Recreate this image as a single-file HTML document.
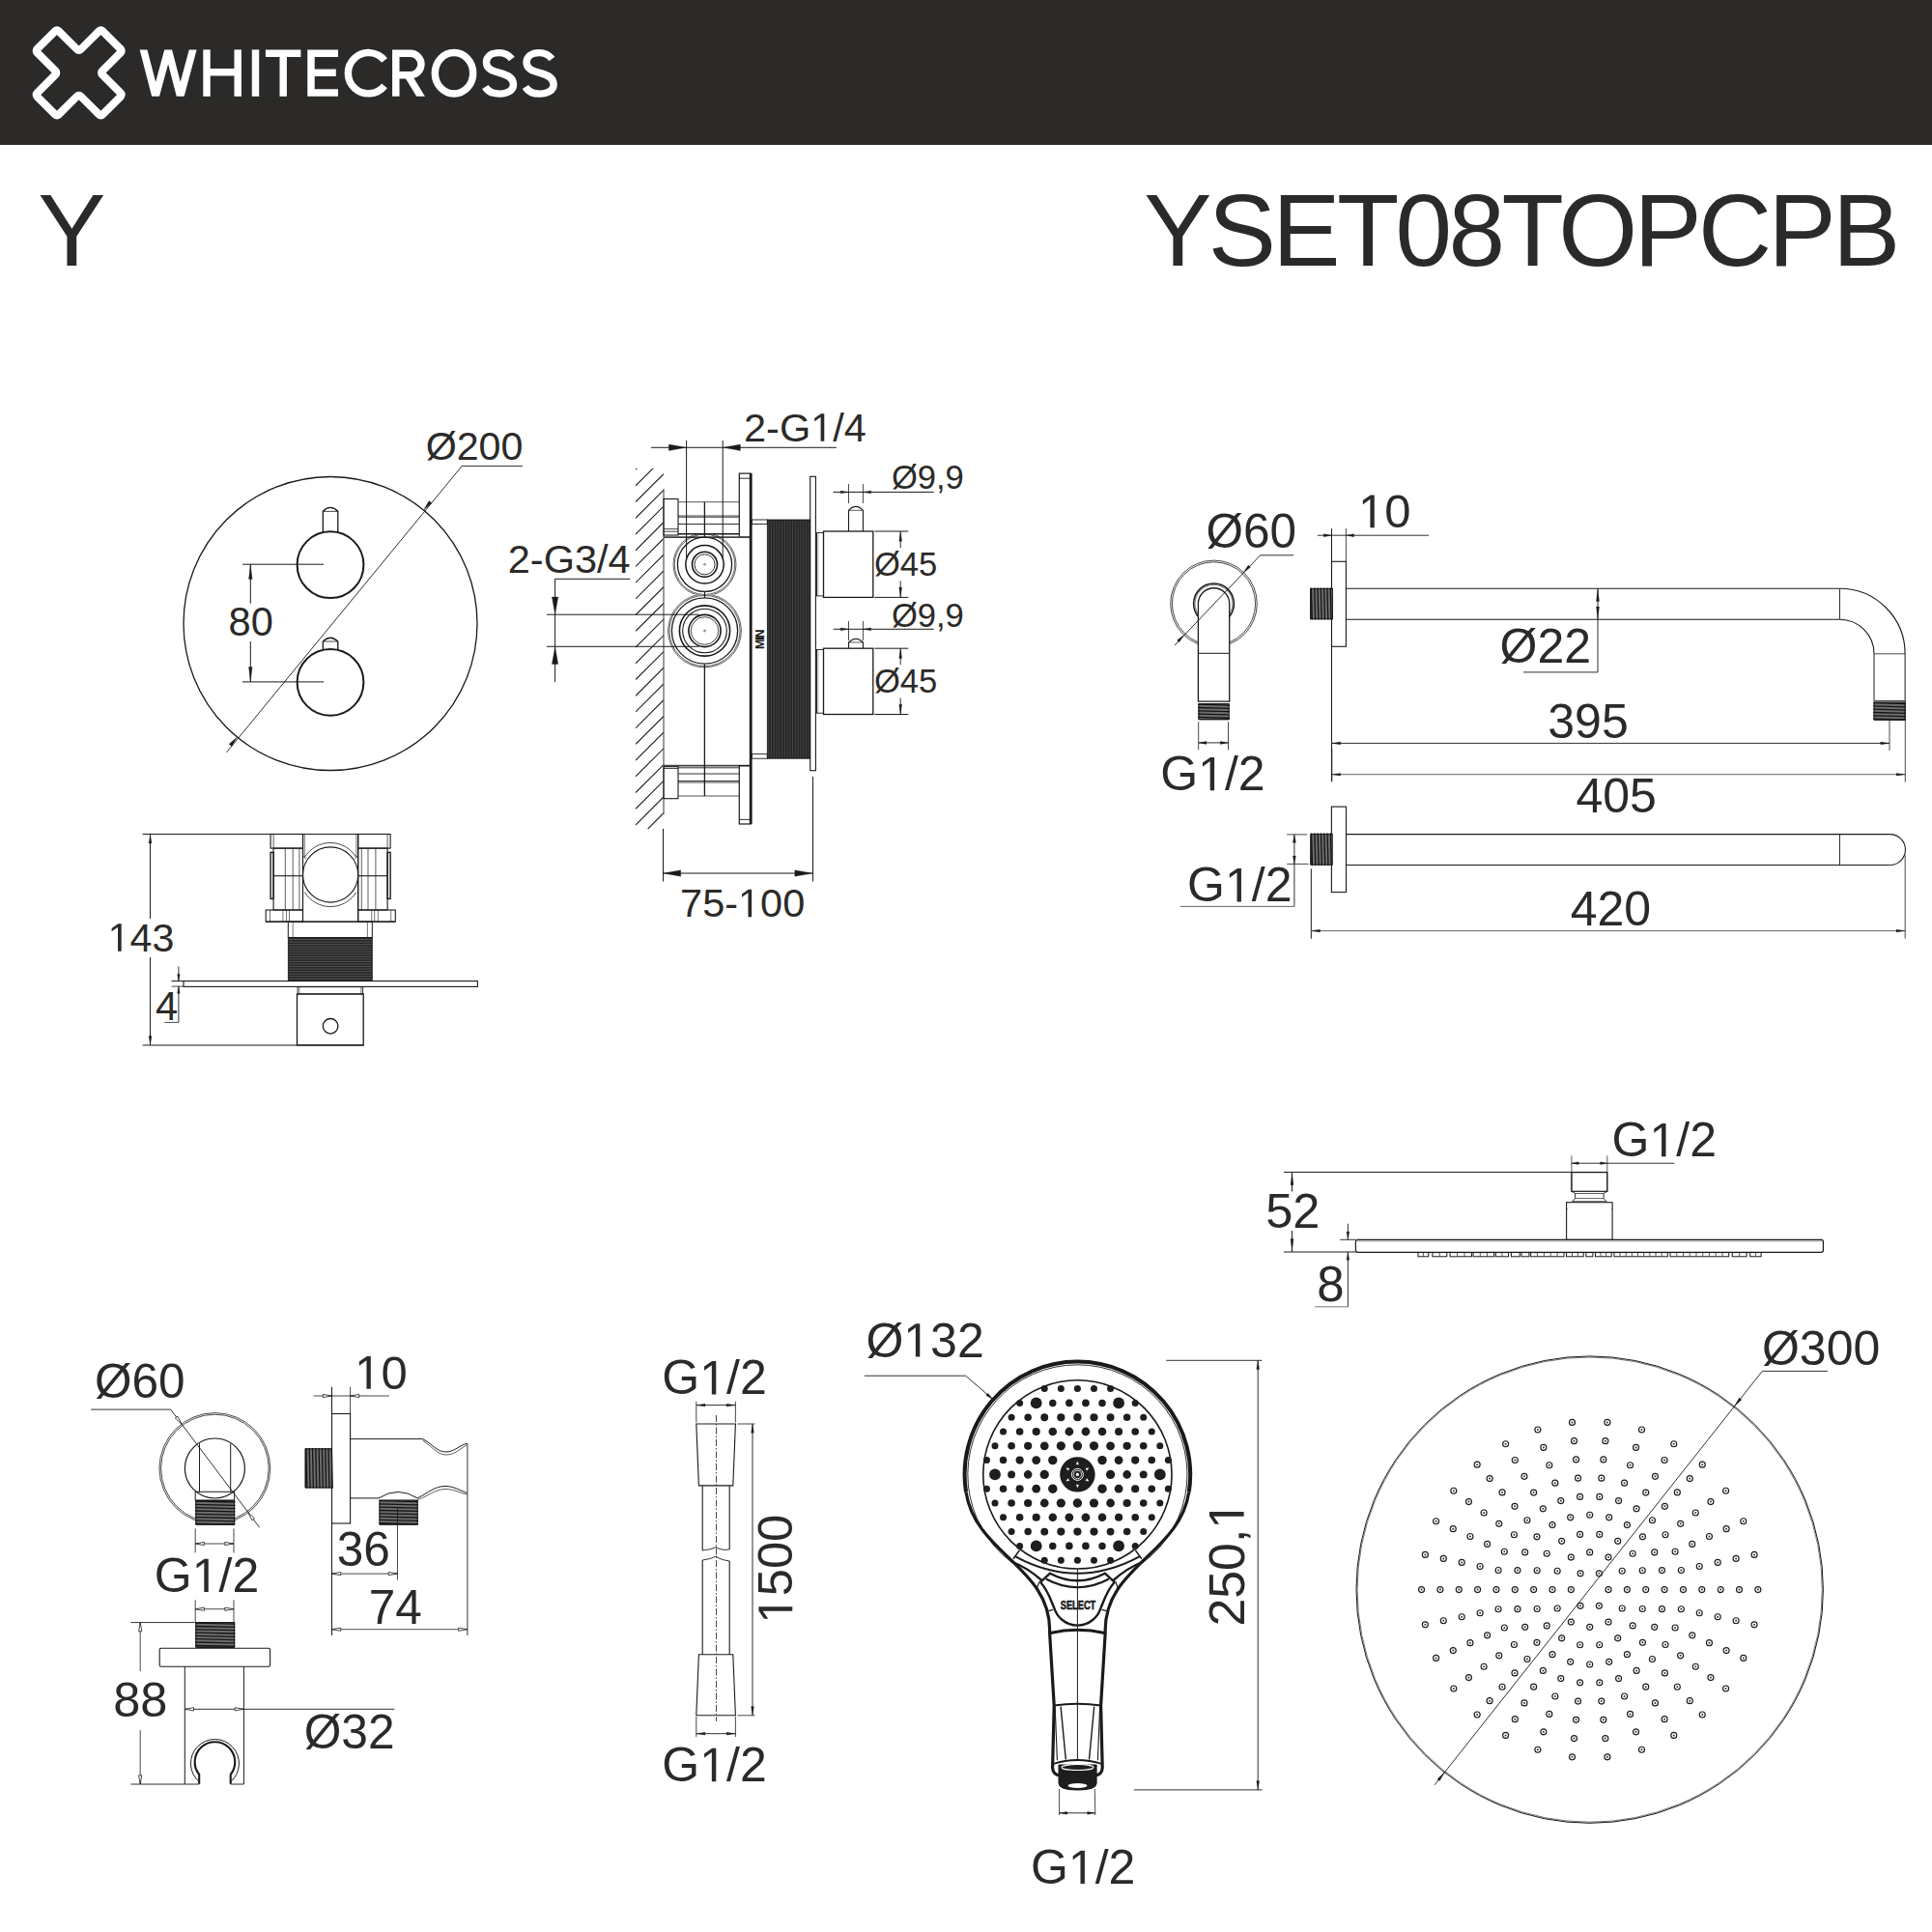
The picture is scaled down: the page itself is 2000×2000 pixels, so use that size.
<!DOCTYPE html>
<html><head><meta charset="utf-8"><style>
html,body{margin:0;padding:0;background:#fff;width:2000px;height:2000px;overflow:hidden;}
svg{display:block;}
text{font-family:"Liberation Sans",sans-serif;}
</style></head><body>
<svg width="2000" height="2000" viewBox="0 0 2000 2000">
<g fill="none" stroke="#1a1a18" stroke-linecap="butt">
<rect x="0" y="0" width="2000" height="150" fill="#2b2a29" stroke="none"/>
<path d="M60.69,32.07 A2.5,2.5 0 0 0 57.16,32.07 L38.35,50.88 A2.5,2.5 0 0 0 38.35,54.41 L57.55,73.61 A2.5,2.5 0 0 1 57.55,77.15 L38.35,96.35 A2.5,2.5 0 0 0 38.35,99.88 L57.16,118.69 A2.5,2.5 0 0 0 60.69,118.69 L79.89,99.49 A2.5,2.5 0 0 1 83.43,99.49 L102.63,118.69 A2.5,2.5 0 0 0 106.16,118.69 L124.97,99.88 A2.5,2.5 0 0 0 124.97,96.35 L105.77,77.15 A2.5,2.5 0 0 1 105.77,73.61 L124.97,54.41 A2.5,2.5 0 0 0 124.97,50.88 L106.16,32.07 A2.5,2.5 0 0 0 102.63,32.07 L83.43,51.27 A2.5,2.5 0 0 1 79.89,51.27 Z " fill="none" stroke="#fff" stroke-width="8" stroke-linejoin="round"/>
<clipPath id="wclip"><rect x="130" y="51.4" width="80" height="48.4"/></clipPath>
<polyline points="146,41.6 161.05,99.8 174.15,51.4 186.7,99.8 202.3,41.6" stroke-width="7.6" fill="none" stroke="#fff" stroke-linejoin="miter" stroke-miterlimit="10" clip-path="url(#wclip)"/>
<line x1="214" y1="51.4" x2="214" y2="99.8" stroke-width="7.45" stroke="#fff" stroke-linecap="butt"/>
<line x1="246.2" y1="51.4" x2="246.2" y2="99.8" stroke-width="7.45" stroke="#fff" stroke-linecap="butt"/>
<line x1="214" y1="74.7" x2="246.2" y2="74.7" stroke-width="7.45" stroke="#fff" stroke-linecap="butt"/>
<line x1="264.5" y1="51.4" x2="264.5" y2="99.8" stroke-width="7.45" stroke="#fff" stroke-linecap="butt"/>
<line x1="274.9" y1="55.2" x2="311.4" y2="55.2" stroke-width="7.45" stroke="#fff" stroke-linecap="butt"/>
<line x1="293.2" y1="55.2" x2="293.2" y2="99.8" stroke-width="7.45" stroke="#fff" stroke-linecap="butt"/>
<polyline points="350,55.25 322,55.25 322,95.95 350,95.95" stroke-width="7.45" fill="none" stroke="#fff" stroke-linejoin="miter"/>
<line x1="322" y1="75.3" x2="347.8" y2="75.3" stroke-width="7.45" stroke="#fff" stroke-linecap="butt"/>
<path d="M398.05,62.53 A21.15,21.15 0 1 0 398.05,88.87" stroke-width="7.45" fill="none" stroke="#fff"/>
<path d="M409.8,99.8 L409.8,55.25 L424.7,55.25 A11.25,11.25 0 0 1 424.7,77.75 L409.8,77.75" stroke-width="7.45" fill="none" stroke="#fff" stroke-linejoin="miter"/>
<clipPath id="rclip"><rect x="400" y="40" width="60" height="59.8"/></clipPath>
<line x1="422" y1="77.5" x2="437.2" y2="102.5" stroke-width="7.45" stroke="#fff" clip-path="url(#rclip)"/>
<ellipse cx="470" cy="75.8" rx="19.7" ry="21.25" fill="none" stroke="#fff" stroke-width="7.45"/>
<path d="M529.8,61 C526.5,56.5 521.5,54.6 516.5,54.6 C509,54.6 503.5,58.5 503.5,64.8 C503.5,72 511.5,73.8 518,75.6 C525,77.6 531.5,80.2 531.5,87.5 C531.5,93.8 525,97.1 517,97.1 C511,97.1 505,94.6 502.3,90" stroke-width="7.45" fill="none" stroke="#fff"/>
<path d="M529.8,61 C526.5,56.5 521.5,54.6 516.5,54.6 C509,54.6 503.5,58.5 503.5,64.8 C503.5,72 511.5,73.8 518,75.6 C525,77.6 531.5,80.2 531.5,87.5 C531.5,93.8 525,97.1 517,97.1 C511,97.1 505,94.6 502.3,90" transform="translate(41.6,0)" fill="none" stroke="#fff" stroke-width="7.45"/>
<text x="39.21" y="274.95" font-size="105.3" fill="#2b2a29" stroke="none">Y</text>
<text x="1184.16" y="275.2" font-size="105.3" fill="#2b2a29" stroke="none" letter-spacing="-3.65">YSET08TOPCPB</text>
<circle cx="342" cy="645.5" r="152" stroke-width="1.3" fill="none"/>
<circle cx="342" cy="584.7" r="34.4" stroke-width="2" fill="none"/>
<circle cx="342" cy="706.3" r="34.4" stroke-width="2" fill="none"/>
<path d="M334.3,551 L334.3,529.2 Q342,521.5 349.8,529.2 L349.8,551" stroke-width="1.3" fill="none"/>
<line x1="334.3" y1="529.4" x2="349.8" y2="529.4" stroke-width="0.8"/>
<path d="M334.3,672.5 L334.3,664 Q342,656.5 349.8,664 L349.8,672.5" stroke-width="1.3" fill="none"/>
<line x1="334.3" y1="664" x2="349.8" y2="664" stroke-width="0.8"/>
<line x1="251" y1="584.2" x2="335" y2="584.2" stroke-width="1"/>
<line x1="251" y1="705.9" x2="335" y2="705.9" stroke-width="1"/>
<line x1="259.3" y1="584.2" x2="259.3" y2="624.6" stroke-width="1"/>
<line x1="259.3" y1="664" x2="259.3" y2="705.9" stroke-width="1"/>
<polygon points="259.3,584.6 261.1,599.6 257.5,599.6" stroke-width="0.3" fill="#1a1a18"/>
<polygon points="259.3,705.5 257.5,690.5 261.1,690.5" stroke-width="0.3" fill="#1a1a18"/>
<text x="236.56" y="658.4" font-size="41.6" fill="#2b2a29" stroke="none">80</text>
<line x1="234.5" y1="778.9" x2="478.2" y2="482.4" stroke-width="0.9"/>
<line x1="478.2" y1="482.4" x2="540.9" y2="482.4" stroke-width="0.9"/>
<polygon points="438.52,528.08 444.11,518.44 446.9,520.73" stroke-width="0.3" fill="#1a1a18"/>
<polygon points="245.48,762.92 239.89,772.56 237.1,770.27" stroke-width="0.3" fill="#1a1a18"/>
<text x="440.63" y="475.81" font-size="41.2" fill="#2b2a29" stroke="none">Ø200</text>
<line x1="147.6" y1="863.5" x2="403.6" y2="863.5" stroke-width="1"/>
<line x1="147.6" y1="1082" x2="376.2" y2="1082" stroke-width="1"/>
<line x1="155.5" y1="863.5" x2="155.5" y2="951" stroke-width="1"/>
<line x1="155.5" y1="991" x2="155.5" y2="1082" stroke-width="1"/>
<polygon points="155.5,863.9 157,872.9 154,872.9" stroke-width="0.3" fill="#1a1a18"/>
<polygon points="155.5,1081.6 154,1072.6 157,1072.6" stroke-width="0.3" fill="#1a1a18"/>
<text x="111.67" y="984.66" font-size="41.2" fill="#2b2a29" stroke="none"> 43</text><polygon points="122.03,984.66 122.03,959.78 115.63,964.34 115.63,960.92 122.33,956.32 125.67,956.32 125.67,984.66" fill="#2b2a29" stroke="none"/>
<line x1="177.6" y1="1015.6" x2="190" y2="1015.6" stroke-width="0.8"/>
<line x1="177.6" y1="1021.1" x2="190" y2="1021.1" stroke-width="0.8"/>
<line x1="184.9" y1="1000.5" x2="184.9" y2="1015.6" stroke-width="0.9"/>
<line x1="184.9" y1="1021.1" x2="184.9" y2="1058.4" stroke-width="0.9"/>
<polygon points="184.9,1015.4 183.6,1008.4 186.2,1008.4" stroke-width="0.3" fill="#1a1a18"/>
<polygon points="184.9,1021.3 186.2,1028.3 183.6,1028.3" stroke-width="0.3" fill="#1a1a18"/>
<line x1="170.4" y1="1058.4" x2="184.9" y2="1058.4" stroke-width="0.8"/>
<text x="160.96" y="1056.2" font-size="41.6" fill="#2b2a29" stroke="none">4</text>
<rect x="280.1" y="863.5" width="33.4" height="14.6" stroke-width="1.1" fill="none"/>
<line x1="283.1" y1="863.5" x2="283.1" y2="878.1" stroke-width="0.7"/>
<rect x="283.1" y="878.1" width="30.4" height="63.9" stroke-width="1.1" fill="none"/>
<line x1="295.3" y1="878.1" x2="295.3" y2="942" stroke-width="0.7"/>
<line x1="303.2" y1="878.1" x2="303.2" y2="942" stroke-width="0.7"/>
<line x1="309.9" y1="878.1" x2="309.9" y2="942" stroke-width="0.7"/>
<line x1="283.1" y1="906.7" x2="313.5" y2="906.7" stroke-width="1.1"/>
<rect x="280.1" y="882.4" width="3" height="48" stroke-width="1.4" fill="none"/>
<rect x="275.2" y="942" width="38.3" height="12.2" stroke-width="1.1" fill="none"/>
<line x1="279.5" y1="942" x2="279.5" y2="954.2" stroke-width="0.6"/>
<line x1="292.9" y1="942" x2="292.9" y2="954.2" stroke-width="0.6"/>
<line x1="296.5" y1="942" x2="296.5" y2="954.2" stroke-width="0.6"/>
<line x1="299.5" y1="942" x2="299.5" y2="954.2" stroke-width="0.6"/>
<rect x="370.7" y="863.5" width="33.4" height="14.6" stroke-width="1.1" fill="none"/>
<line x1="401.1" y1="863.5" x2="401.1" y2="878.1" stroke-width="0.7"/>
<rect x="370.7" y="878.1" width="30.4" height="63.9" stroke-width="1.1" fill="none"/>
<line x1="388.9" y1="878.1" x2="388.9" y2="942" stroke-width="0.7"/>
<line x1="381" y1="878.1" x2="381" y2="942" stroke-width="0.7"/>
<line x1="374.3" y1="878.1" x2="374.3" y2="942" stroke-width="0.7"/>
<line x1="370.7" y1="906.7" x2="401.1" y2="906.7" stroke-width="1.1"/>
<rect x="401.1" y="882.4" width="3" height="48" stroke-width="1.4" fill="none"/>
<rect x="370.7" y="942" width="38.6" height="12.2" stroke-width="1.1" fill="none"/>
<line x1="404.7" y1="942" x2="404.7" y2="954.2" stroke-width="0.6"/>
<line x1="391.3" y1="942" x2="391.3" y2="954.2" stroke-width="0.6"/>
<line x1="387.7" y1="942" x2="387.7" y2="954.2" stroke-width="0.6"/>
<line x1="384.7" y1="942" x2="384.7" y2="954.2" stroke-width="0.6"/>
<line x1="313.5" y1="863.5" x2="313.5" y2="954.2" stroke-width="1.1"/>
<line x1="370.7" y1="863.5" x2="370.7" y2="954.2" stroke-width="1.1"/>
<line x1="315.3" y1="863.5" x2="315.3" y2="887" stroke-width="0.6"/>
<line x1="368.9" y1="863.5" x2="368.9" y2="887" stroke-width="0.6"/>
<line x1="275.2" y1="954.2" x2="408.7" y2="954.2" stroke-width="1.3"/>
<circle cx="342.1" cy="905.5" r="28.6" stroke-width="1.1" fill="none"/>
<path d="M315.3,887.5 A31.4,31.4 0 0 1 368.9,887.5" stroke-width="0.8" fill="none"/>
<path d="M315.3,923.5 A31.4,31.4 0 0 0 368.9,923.5" stroke-width="0.8" fill="none"/>
<path d="M313.5,886 L317,889" stroke-width="0.8" fill="none"/>
<path d="M370.7,886 L367.2,889" stroke-width="0.8" fill="none"/>
<rect x="298.3" y="954.2" width="87" height="16.4" stroke-width="1" fill="none"/>
<line x1="303.2" y1="954.2" x2="303.2" y2="970.6" stroke-width="0.6"/>
<line x1="380.4" y1="954.2" x2="380.4" y2="970.6" stroke-width="0.6"/>
<rect x="298.3" y="970.6" width="87" height="45" stroke-width="0.8" fill="#262626"/>
<line x1="298.8" y1="972.5" x2="384.8" y2="972.5" stroke-width="0.45" stroke="#8a8a8a"/>
<line x1="298.8" y1="975.05" x2="384.8" y2="975.05" stroke-width="0.45" stroke="#8a8a8a"/>
<line x1="298.8" y1="977.6" x2="384.8" y2="977.6" stroke-width="0.45" stroke="#8a8a8a"/>
<line x1="298.8" y1="980.15" x2="384.8" y2="980.15" stroke-width="0.45" stroke="#8a8a8a"/>
<line x1="298.8" y1="982.7" x2="384.8" y2="982.7" stroke-width="0.45" stroke="#8a8a8a"/>
<line x1="298.8" y1="985.25" x2="384.8" y2="985.25" stroke-width="0.45" stroke="#8a8a8a"/>
<line x1="298.8" y1="987.8" x2="384.8" y2="987.8" stroke-width="0.45" stroke="#8a8a8a"/>
<line x1="298.8" y1="990.35" x2="384.8" y2="990.35" stroke-width="0.45" stroke="#8a8a8a"/>
<line x1="298.8" y1="992.9" x2="384.8" y2="992.9" stroke-width="0.45" stroke="#8a8a8a"/>
<line x1="298.8" y1="995.45" x2="384.8" y2="995.45" stroke-width="0.45" stroke="#8a8a8a"/>
<line x1="298.8" y1="998" x2="384.8" y2="998" stroke-width="0.45" stroke="#8a8a8a"/>
<line x1="298.8" y1="1000.55" x2="384.8" y2="1000.55" stroke-width="0.45" stroke="#8a8a8a"/>
<line x1="298.8" y1="1003.1" x2="384.8" y2="1003.1" stroke-width="0.45" stroke="#8a8a8a"/>
<line x1="298.8" y1="1005.65" x2="384.8" y2="1005.65" stroke-width="0.45" stroke="#8a8a8a"/>
<line x1="298.8" y1="1008.2" x2="384.8" y2="1008.2" stroke-width="0.45" stroke="#8a8a8a"/>
<line x1="298.8" y1="1010.75" x2="384.8" y2="1010.75" stroke-width="0.45" stroke="#8a8a8a"/>
<line x1="298.8" y1="1013.3" x2="384.8" y2="1013.3" stroke-width="0.45" stroke="#8a8a8a"/>
<rect x="190" y="1015.6" width="304.4" height="5.8" stroke-width="1.1" fill="none"/>
<line x1="177.6" y1="1015.6" x2="190" y2="1015.6" stroke-width="0.8"/>
<rect x="308.1" y="1021.7" width="67.5" height="7.3" stroke-width="0.9" fill="none"/>
<line x1="309.9" y1="1021.7" x2="309.9" y2="1029" stroke-width="0.6"/>
<line x1="373.8" y1="1021.7" x2="373.8" y2="1029" stroke-width="0.6"/>
<rect x="307.5" y="1029" width="68.7" height="53" stroke-width="1.3" fill="none"/>
<circle cx="342.1" cy="1062.3" r="7.8" stroke-width="1.3" fill="none"/>
<clipPath id="hclip"><rect x="658" y="485" width="29" height="373"/></clipPath>
<path d="M658,486.16 L687,457.16 M658,502.88 L687,473.88 M658,519.6 L687,490.6 M658,536.32 L687,507.32 M658,553.04 L687,524.04 M658,569.76 L687,540.76 M658,586.48 L687,557.48 M658,603.2 L687,574.2 M658,619.92 L687,590.92 M658,636.64 L687,607.64 M658,653.36 L687,624.36 M658,670.08 L687,641.08 M658,686.8 L687,657.8 M658,703.52 L687,674.52 M658,720.24 L687,691.24 M658,736.96 L687,707.96 M658,753.68 L687,724.68 M658,770.4 L687,741.4 M658,787.12 L687,758.12 M658,803.84 L687,774.84 M658,820.56 L687,791.56 M658,837.28 L687,808.28 M658,854 L687,825 M658,870.72 L687,841.72 M658,887.44 L687,858.44" stroke-width="1.1" clip-path="url(#hclip)"/>
<line x1="687" y1="506" x2="687" y2="843" stroke-width="1.2" stroke="#555"/>
<rect x="687" y="516.5" width="15" height="37.5" stroke-width="1.1" fill="none"/>
<line x1="687" y1="547.6" x2="702" y2="547.6" stroke-width="0.8"/>
<line x1="687" y1="550.2" x2="702" y2="550.2" stroke-width="0.8"/>
<line x1="702" y1="519.7" x2="765.3" y2="519.7" stroke-width="1" stroke="#555"/>
<line x1="702" y1="534" x2="765.3" y2="534" stroke-width="0.8"/>
<line x1="702" y1="535.3" x2="765.3" y2="535.3" stroke-width="0.8"/>
<line x1="702" y1="542.5" x2="765.3" y2="542.5" stroke-width="0.9"/>
<line x1="702" y1="552.7" x2="765.3" y2="552.7" stroke-width="1.6"/>
<line x1="729.4" y1="519.7" x2="729.4" y2="556" stroke-width="1.3"/>
<rect x="765.3" y="490.1" width="11.9" height="66" stroke-width="1.2" fill="none"/>
<line x1="765.3" y1="495.2" x2="777.2" y2="495.2" stroke-width="0.9"/>
<line x1="687" y1="556.1" x2="777.2" y2="556.1" stroke-width="1.6" stroke="#444"/>
<line x1="687" y1="792.6" x2="777.2" y2="792.6" stroke-width="1.6" stroke="#444"/>
<line x1="777.2" y1="490.1" x2="777.2" y2="853" stroke-width="2.8"/>
<rect x="687" y="793.7" width="15" height="33" stroke-width="1.1" fill="none"/>
<line x1="687" y1="795.5" x2="702" y2="795.5" stroke-width="0.8"/>
<line x1="702" y1="794.8" x2="765.3" y2="794.8" stroke-width="0.9"/>
<line x1="702" y1="801" x2="765.3" y2="801" stroke-width="0.9"/>
<line x1="702" y1="808.5" x2="765.3" y2="808.5" stroke-width="0.9"/>
<line x1="702" y1="810" x2="765.3" y2="810" stroke-width="0.8"/>
<line x1="702" y1="824" x2="765.3" y2="824" stroke-width="1" stroke="#555"/>
<line x1="729.4" y1="687.8" x2="729.4" y2="824" stroke-width="1.3"/>
<rect x="765.3" y="792.6" width="11.9" height="60.4" stroke-width="1.2" fill="none"/>
<line x1="765.3" y1="848.4" x2="777.2" y2="848.4" stroke-width="0.9"/>
<rect x="778.3" y="538" width="16" height="4.5" stroke-width="0.9" fill="none"/>
<rect x="778.3" y="780.6" width="16" height="4.6" stroke-width="0.9" fill="none"/>
<rect x="794.3" y="538" width="44.4" height="247.2" stroke-width="0.8" fill="#262626"/>
<line x1="795.8" y1="539" x2="795.8" y2="784.2" stroke-width="0.45" stroke="#6a6a6a"/>
<line x1="798.55" y1="539" x2="798.55" y2="784.2" stroke-width="0.45" stroke="#6a6a6a"/>
<line x1="801.3" y1="539" x2="801.3" y2="784.2" stroke-width="0.45" stroke="#6a6a6a"/>
<line x1="804.05" y1="539" x2="804.05" y2="784.2" stroke-width="0.45" stroke="#6a6a6a"/>
<line x1="806.8" y1="539" x2="806.8" y2="784.2" stroke-width="0.45" stroke="#6a6a6a"/>
<line x1="809.55" y1="539" x2="809.55" y2="784.2" stroke-width="0.45" stroke="#6a6a6a"/>
<line x1="812.3" y1="539" x2="812.3" y2="784.2" stroke-width="0.45" stroke="#6a6a6a"/>
<line x1="815.05" y1="539" x2="815.05" y2="784.2" stroke-width="0.45" stroke="#6a6a6a"/>
<line x1="817.8" y1="539" x2="817.8" y2="784.2" stroke-width="0.45" stroke="#6a6a6a"/>
<line x1="820.55" y1="539" x2="820.55" y2="784.2" stroke-width="0.45" stroke="#6a6a6a"/>
<line x1="823.3" y1="539" x2="823.3" y2="784.2" stroke-width="0.45" stroke="#6a6a6a"/>
<line x1="826.05" y1="539" x2="826.05" y2="784.2" stroke-width="0.45" stroke="#6a6a6a"/>
<line x1="828.8" y1="539" x2="828.8" y2="784.2" stroke-width="0.45" stroke="#6a6a6a"/>
<line x1="831.55" y1="539" x2="831.55" y2="784.2" stroke-width="0.45" stroke="#6a6a6a"/>
<line x1="834.3" y1="539" x2="834.3" y2="784.2" stroke-width="0.45" stroke="#6a6a6a"/>
<line x1="837.05" y1="539" x2="837.05" y2="784.2" stroke-width="0.45" stroke="#6a6a6a"/>
<rect x="838.7" y="493.3" width="5.7" height="304.4" stroke-width="1.1" fill="none"/>
<rect x="845.5" y="551.6" width="7" height="65.3" stroke-width="0.9" fill="none"/>
<line x1="847" y1="551.6" x2="847" y2="616.9" stroke-width="0.6" stroke="#777"/>
<rect x="845.5" y="672.5" width="7" height="65.7" stroke-width="0.9" fill="none"/>
<line x1="847" y1="672.5" x2="847" y2="738.2" stroke-width="0.6" stroke="#777"/>
<rect x="852.5" y="550" width="51.3" height="68.4" stroke-width="1.3" fill="none"/>
<rect x="852.5" y="671.2" width="51.3" height="68.3" stroke-width="1.3" fill="none"/>
<path d="M878.5,550 L878.5,528.3 Q886,520.5 893.4,528.3 L893.4,550" stroke-width="1.1" fill="none"/>
<line x1="878.5" y1="528.3" x2="893.4" y2="528.3" stroke-width="0.7"/>
<path d="M878.5,671.2 L878.5,665 Q886,657.5 893.4,665 L893.4,671.2" stroke-width="1.1" fill="none"/>
<line x1="878.5" y1="665" x2="893.4" y2="665" stroke-width="0.7"/>
<clipPath id="ftop"><rect x="680" y="553" width="100" height="62.5"/></clipPath>
<clipPath id="fbot"><rect x="680" y="615.5" width="100" height="80"/></clipPath>
<circle cx="729.5" cy="584.3" r="32.5" stroke-width="0.7" fill="none" clip-path="url(#ftop)"/>
<circle cx="729.5" cy="584.3" r="31.2" stroke-width="0.7" fill="none" clip-path="url(#ftop)"/>
<circle cx="729.5" cy="584.3" r="28.1" stroke-width="1.3" fill="none"/>
<circle cx="729.5" cy="584.3" r="19.7" stroke-width="1.5" fill="none"/>
<circle cx="729.5" cy="584.3" r="13" stroke-width="1.6" fill="none"/>
<circle cx="729.5" cy="584.3" r="10.55" stroke-width="0.9" fill="none"/>
<circle cx="729.5" cy="584.3" r="0.9" stroke-width="0.6" fill="none"/>
<circle cx="729.5" cy="653" r="37.9" stroke-width="0.7" fill="none" clip-path="url(#fbot)"/>
<circle cx="729.5" cy="653" r="36.6" stroke-width="0.7" fill="none" clip-path="url(#fbot)"/>
<circle cx="729.5" cy="653" r="34.1" stroke-width="1.3" fill="none"/>
<circle cx="729.5" cy="653" r="26.1" stroke-width="1.6" fill="none"/>
<circle cx="729.5" cy="653" r="22.8" stroke-width="1.1" fill="none"/>
<circle cx="729.5" cy="653" r="16.6" stroke-width="1.6" fill="none"/>
<circle cx="729.5" cy="653" r="14.3" stroke-width="0.8" fill="none"/>
<circle cx="729.5" cy="653" r="0.9" stroke-width="0.6" fill="none"/>
<line x1="729.5" y1="612.4" x2="729.5" y2="619" stroke-width="1.2"/>
<line x1="710.6" y1="456" x2="710.6" y2="577.7" stroke-width="1"/>
<line x1="748.2" y1="456" x2="748.2" y2="577.7" stroke-width="1"/>
<line x1="674" y1="463.3" x2="865.9" y2="463.3" stroke-width="1"/>
<polygon points="710.4,463.3 692.4,466.5 692.4,460.1" stroke-width="0.3" fill="#1a1a18"/>
<polygon points="748.4,463.3 766.4,460.1 766.4,466.5" stroke-width="0.3" fill="#1a1a18"/>
<text x="769.99" y="456.84" font-size="41.5" fill="#2b2a29" stroke="none">2-G /4</text><polygon points="849.61,456.84 849.61,431.77 843.17,436.37 843.17,432.93 849.91,428.28 853.28,428.28 853.28,456.84" fill="#2b2a29" stroke="none"/>
<line x1="574.6" y1="599.3" x2="652.3" y2="599.3" stroke-width="1"/>
<line x1="574.6" y1="599.3" x2="574.6" y2="706" stroke-width="1"/>
<polygon points="574.6,636 571.4,618 577.8,618" stroke-width="0.3" fill="#1a1a18"/>
<polygon points="574.6,669.5 577.8,687.5 571.4,687.5" stroke-width="0.3" fill="#1a1a18"/>
<line x1="566" y1="636.2" x2="723.5" y2="636.2" stroke-width="1"/>
<line x1="566" y1="669.3" x2="723.5" y2="669.3" stroke-width="1"/>
<text x="525.79" y="593.49" font-size="41.5" fill="#2b2a29" stroke="none">2-G3/4</text>
<line x1="686.5" y1="858" x2="686.5" y2="912.5" stroke-width="1"/>
<line x1="841.5" y1="804" x2="841.5" y2="912.5" stroke-width="1"/>
<line x1="686.5" y1="904" x2="841" y2="904" stroke-width="1"/>
<polygon points="686.7,904 704.7,900.8 704.7,907.2" stroke-width="0.3" fill="#1a1a18"/>
<polygon points="840.8,904 822.8,907.2 822.8,900.8" stroke-width="0.3" fill="#1a1a18"/>
<text x="704.05" y="949.32" font-size="41.5" fill="#2b2a29" stroke="none">75- 00</text><polygon points="774.47,949.32 774.47,924.25 768.03,928.85 768.03,925.4 774.78,920.76 778.14,920.76 778.14,949.32" fill="#2b2a29" stroke="none"/>
<text transform="translate(786.6,662.3) rotate(-90)" x="0" y="4.4" font-size="12.5" font-weight="bold" text-anchor="middle" letter-spacing="-1.2" fill="#1a1a18" stroke="none">MIN</text>
<line x1="862.6" y1="509.4" x2="966.7" y2="509.4" stroke-width="1"/>
<line x1="878.5" y1="501" x2="878.5" y2="521" stroke-width="0.8"/>
<line x1="893.4" y1="501" x2="893.4" y2="521" stroke-width="0.8"/>
<polygon points="878.3,509.4 870.3,510.8 870.3,508" stroke-width="0.3" fill="#1a1a18"/>
<polygon points="893.6,509.4 901.6,508 901.6,510.8" stroke-width="0.3" fill="#1a1a18"/>
<text x="922.88" y="505.51" font-size="34.6" fill="#2b2a29" stroke="none">Ø9,9</text>
<line x1="862.6" y1="651.3" x2="966.7" y2="651.3" stroke-width="1"/>
<line x1="878.5" y1="643" x2="878.5" y2="663" stroke-width="0.8"/>
<line x1="893.4" y1="643" x2="893.4" y2="663" stroke-width="0.8"/>
<polygon points="878.3,651.3 870.3,652.7 870.3,649.9" stroke-width="0.3" fill="#1a1a18"/>
<polygon points="893.6,651.3 901.6,649.9 901.6,652.7" stroke-width="0.3" fill="#1a1a18"/>
<text x="922.88" y="648.76" font-size="34.6" fill="#2b2a29" stroke="none">Ø9,9</text>
<line x1="905.3" y1="550" x2="940.3" y2="550" stroke-width="1"/>
<line x1="905.3" y1="618.4" x2="940.3" y2="618.4" stroke-width="1"/>
<line x1="932.2" y1="550" x2="932.2" y2="618.4" stroke-width="0.9"/>
<polygon points="932.2,550.3 933.6,560.3 930.8,560.3" stroke-width="0.3" fill="#1a1a18"/>
<polygon points="932.2,618.1 930.8,608.1 933.6,608.1" stroke-width="0.3" fill="#1a1a18"/>
<rect x="912" y="567" width="50" height="34.4" fill="#fff" stroke="none"/>
<text x="904.9" y="596.14" font-size="34.6" fill="#2b2a29" stroke="none">Ø45</text>
<line x1="905.3" y1="671.2" x2="940.3" y2="671.2" stroke-width="1"/>
<line x1="905.3" y1="739.5" x2="940.3" y2="739.5" stroke-width="1"/>
<line x1="932.2" y1="671.2" x2="932.2" y2="739.5" stroke-width="0.9"/>
<polygon points="932.2,671.5 933.6,681.5 930.8,681.5" stroke-width="0.3" fill="#1a1a18"/>
<polygon points="932.2,739.2 930.8,729.2 933.6,729.2" stroke-width="0.3" fill="#1a1a18"/>
<rect x="912" y="688.2" width="50" height="34.3" fill="#fff" stroke="none"/>
<text x="904.9" y="716.69" font-size="34.6" fill="#2b2a29" stroke="none">Ø45</text>
<circle cx="1256.5" cy="624.9" r="44.8" stroke-width="0.8" fill="none"/>
<circle cx="1256.5" cy="624.9" r="43.1" stroke-width="0.8" fill="none"/>
<circle cx="1256.5" cy="624.9" r="20.9" stroke-width="1.5" fill="none"/>
<circle cx="1256.5" cy="624.9" r="19.5" stroke-width="0.6" fill="none"/>
<path d="M1240.4,726.1 L1240.4,624.9 A16.15,16.15 0 0 1 1272.7,624.9 L1272.7,726.1 Z" stroke-width="1.3" fill="#fff"/>
<line x1="1240.4" y1="676.3" x2="1272.7" y2="676.3" stroke-width="1"/>
<rect x="1240.9" y="728.6" width="31.3" height="16" stroke-width="1.1" fill="#6e6e6e"/>
<line x1="1240.1" y1="729.2" x2="1273" y2="730.1" stroke-width="1.3" stroke="#141414"/>
<line x1="1240.1" y1="732.5" x2="1273" y2="733.4" stroke-width="1.3" stroke="#141414"/>
<line x1="1240.1" y1="735.8" x2="1273" y2="736.7" stroke-width="1.3" stroke="#141414"/>
<line x1="1240.1" y1="739.1" x2="1273" y2="740" stroke-width="1.3" stroke="#141414"/>
<line x1="1240.1" y1="742.4" x2="1273" y2="743.3" stroke-width="1.3" stroke="#141414"/>
<line x1="1240.9" y1="744.6" x2="1272.2" y2="744.6" stroke-width="1.4"/>
<line x1="1240.7" y1="747.3" x2="1240.7" y2="776.3" stroke-width="0.8"/>
<line x1="1271.5" y1="747.3" x2="1271.5" y2="776.3" stroke-width="0.8"/>
<line x1="1240.7" y1="768.9" x2="1271.5" y2="768.9" stroke-width="0.9"/>
<polygon points="1240.9,768.9 1248.9,767.4 1248.9,770.4" stroke-width="0.3" fill="#1a1a18"/>
<polygon points="1271.3,768.9 1263.3,770.4 1263.3,767.4" stroke-width="0.3" fill="#1a1a18"/>
<text x="1201.21" y="818.33" font-size="50" fill="#2b2a29" stroke="none">G /2</text><polygon points="1252.68,818.33 1252.68,788.12 1244.91,793.67 1244.91,789.52 1253.04,783.93 1257.1,783.93 1257.1,818.33" fill="#2b2a29" stroke="none"/>
<line x1="1216" y1="668" x2="1304.6" y2="574.8" stroke-width="0.9"/>
<line x1="1304.6" y1="574.8" x2="1339.2" y2="574.8" stroke-width="0.9"/>
<polygon points="1287.16,592.65 1292.27,585.09 1294.45,587.16" stroke-width="0.3" fill="#1a1a18"/>
<polygon points="1225.84,657.15 1220.73,664.71 1218.55,662.64" stroke-width="0.3" fill="#1a1a18"/>
<text x="1248.47" y="566.78" font-size="49.5" fill="#2b2a29" stroke="none">Ø60</text>
<rect x="1378.5" y="581.3" width="14.9" height="88" stroke-width="1.1" fill="none"/>
<line x1="1378.5" y1="547.2" x2="1378.5" y2="808.8" stroke-width="1"/>
<line x1="1393.4" y1="547.2" x2="1393.4" y2="581.3" stroke-width="0.8"/>
<line x1="1363.9" y1="554.2" x2="1479" y2="554.2" stroke-width="0.9"/>
<polygon points="1378.3,554.2 1370.3,555.7 1370.3,552.7" stroke-width="0.3" fill="#1a1a18"/>
<polygon points="1393.6,554.2 1401.6,552.7 1401.6,555.7" stroke-width="0.3" fill="#1a1a18"/>
<text x="1406.1" y="546.29" font-size="49" fill="#2b2a29" stroke="none"> 0</text><polygon points="1418.42,546.29 1418.42,516.7 1410.81,522.13 1410.81,518.06 1418.78,512.58 1422.75,512.58 1422.75,546.29" fill="#2b2a29" stroke="none"/>
<rect x="1356.8" y="609.4" width="22.6" height="31.4" stroke-width="1.1" fill="#6e6e6e"/>
<line x1="1357.4" y1="608.6" x2="1358.3" y2="641.6" stroke-width="1.3" stroke="#141414"/>
<line x1="1360.7" y1="608.6" x2="1361.6" y2="641.6" stroke-width="1.3" stroke="#141414"/>
<line x1="1364" y1="608.6" x2="1364.9" y2="641.6" stroke-width="1.3" stroke="#141414"/>
<line x1="1367.3" y1="608.6" x2="1368.2" y2="641.6" stroke-width="1.3" stroke="#141414"/>
<line x1="1370.6" y1="608.6" x2="1371.5" y2="641.6" stroke-width="1.3" stroke="#141414"/>
<line x1="1373.9" y1="608.6" x2="1374.8" y2="641.6" stroke-width="1.3" stroke="#141414"/>
<line x1="1377.2" y1="608.6" x2="1378.1" y2="641.6" stroke-width="1.3" stroke="#141414"/>
<line x1="1356.8" y1="609.4" x2="1356.8" y2="640.8" stroke-width="1.4"/>
<line x1="1393.4" y1="609.2" x2="1904.5" y2="609.2" stroke-width="1.1"/>
<line x1="1393.4" y1="641.3" x2="1904.5" y2="641.3" stroke-width="1.1"/>
<path d="M1904.5,609.2 A67.6,67.6 0 0 1 1972.1,676.8" stroke-width="1.1" fill="none"/>
<path d="M1904.5,641.3 A35.5,35.5 0 0 1 1940,676.8" stroke-width="1.1" fill="none"/>
<line x1="1904.5" y1="609.2" x2="1904.5" y2="641.3" stroke-width="0.9"/>
<line x1="1940" y1="676.8" x2="1972.1" y2="676.8" stroke-width="0.8"/>
<line x1="1940" y1="676.8" x2="1940" y2="725.6" stroke-width="1"/>
<line x1="1972.1" y1="676.8" x2="1972.1" y2="725.6" stroke-width="1"/>
<line x1="1940" y1="725.6" x2="1972.1" y2="725.6" stroke-width="0.9"/>
<rect x="1940" y="727" width="32.1" height="18" stroke-width="1.1" fill="#6e6e6e"/>
<line x1="1939.2" y1="727.6" x2="1972.9" y2="728.5" stroke-width="1.3" stroke="#141414"/>
<line x1="1939.2" y1="730.9" x2="1972.9" y2="731.8" stroke-width="1.3" stroke="#141414"/>
<line x1="1939.2" y1="734.2" x2="1972.9" y2="735.1" stroke-width="1.3" stroke="#141414"/>
<line x1="1939.2" y1="737.5" x2="1972.9" y2="738.4" stroke-width="1.3" stroke="#141414"/>
<line x1="1939.2" y1="740.8" x2="1972.9" y2="741.7" stroke-width="1.3" stroke="#141414"/>
<line x1="1939.2" y1="744.1" x2="1972.9" y2="745" stroke-width="1.3" stroke="#141414"/>
<line x1="1940" y1="745" x2="1972.1" y2="745" stroke-width="1.4"/>
<line x1="1956" y1="745" x2="1956" y2="776.9" stroke-width="0.8"/>
<line x1="1972.3" y1="725" x2="1972.3" y2="809.7" stroke-width="0.8"/>
<line x1="1378.5" y1="769.4" x2="1956" y2="769.4" stroke-width="0.9"/>
<polygon points="1378.7,769.4 1387.7,768.1 1387.7,770.7" stroke-width="0.3" fill="#1a1a18"/>
<polygon points="1955.8,769.4 1946.8,770.7 1946.8,768.1" stroke-width="0.3" fill="#1a1a18"/>
<text x="1602.28" y="763.79" font-size="50" fill="#2b2a29" stroke="none">395</text>
<line x1="1378.5" y1="801.7" x2="1972.3" y2="801.7" stroke-width="0.9" stroke="#555"/>
<polygon points="1378.7,801.7 1387.7,800.4 1387.7,803" stroke-width="0.3" fill="#1a1a18"/>
<polygon points="1972.1,801.7 1963.1,803 1963.1,800.4" stroke-width="0.3" fill="#1a1a18"/>
<text x="1631.5" y="840.79" font-size="50" fill="#2b2a29" stroke="none">405</text>
<line x1="1654" y1="609.2" x2="1654" y2="695.9" stroke-width="0.9"/>
<polygon points="1654,609.5 1655.5,622.5 1652.5,622.5" stroke-width="0.3" fill="#1a1a18"/>
<polygon points="1654,641 1652.5,628 1655.5,628" stroke-width="0.3" fill="#1a1a18"/>
<line x1="1577" y1="695.9" x2="1654" y2="695.9" stroke-width="0.9"/>
<text x="1552.56" y="685.95" font-size="50" fill="#2b2a29" stroke="none">Ø22</text>
<rect x="1378.4" y="835.1" width="15.1" height="88.5" stroke-width="1.1" fill="none"/>
<line x1="1378.8" y1="775" x2="1378.8" y2="809.5" stroke-width="0.8"/>
<rect x="1357" y="863.4" width="22.2" height="31.8" stroke-width="1.1" fill="#6e6e6e"/>
<line x1="1357.6" y1="862.6" x2="1358.5" y2="896" stroke-width="1.3" stroke="#141414"/>
<line x1="1360.9" y1="862.6" x2="1361.8" y2="896" stroke-width="1.3" stroke="#141414"/>
<line x1="1364.2" y1="862.6" x2="1365.1" y2="896" stroke-width="1.3" stroke="#141414"/>
<line x1="1367.5" y1="862.6" x2="1368.4" y2="896" stroke-width="1.3" stroke="#141414"/>
<line x1="1370.8" y1="862.6" x2="1371.7" y2="896" stroke-width="1.3" stroke="#141414"/>
<line x1="1374.1" y1="862.6" x2="1375" y2="896" stroke-width="1.3" stroke="#141414"/>
<line x1="1377.4" y1="862.6" x2="1378.3" y2="896" stroke-width="1.3" stroke="#141414"/>
<line x1="1357" y1="863.4" x2="1357" y2="895.2" stroke-width="1.4"/>
<line x1="1393.5" y1="863.6" x2="1956.5" y2="863.6" stroke-width="1.1"/>
<line x1="1393.5" y1="895.5" x2="1956.5" y2="895.5" stroke-width="1.1"/>
<path d="M1956.5,863.6 A15.95,15.95 0 0 1 1956.5,895.5" stroke-width="1.1" fill="none"/>
<line x1="1904.5" y1="863.6" x2="1904.5" y2="895.5" stroke-width="0.9"/>
<line x1="1339.9" y1="863.9" x2="1339.9" y2="938.4" stroke-width="0.9"/>
<polygon points="1339.9,864.2 1341.4,872.2 1338.4,872.2" stroke-width="0.3" fill="#1a1a18"/>
<polygon points="1339.9,894.1 1338.4,886.1 1341.4,886.1" stroke-width="0.3" fill="#1a1a18"/>
<line x1="1332.2" y1="863.9" x2="1353.1" y2="863.9" stroke-width="0.8"/>
<line x1="1332.2" y1="894.4" x2="1354.7" y2="894.4" stroke-width="0.8"/>
<line x1="1221.9" y1="938.4" x2="1339.9" y2="938.4" stroke-width="0.9" stroke="#555"/>
<text x="1229.06" y="933.38" font-size="50" fill="#2b2a29" stroke="none">G /2</text><polygon points="1280.53,933.38 1280.53,903.17 1272.76,908.72 1272.76,904.57 1280.89,898.98 1284.95,898.98 1284.95,933.38" fill="#2b2a29" stroke="none"/>
<line x1="1357.3" y1="899.3" x2="1357.3" y2="971.8" stroke-width="1"/>
<line x1="1972.2" y1="885.4" x2="1972.2" y2="971.6" stroke-width="0.8"/>
<line x1="1357.3" y1="963.6" x2="1972.2" y2="963.6" stroke-width="0.9" stroke="#555"/>
<polygon points="1357.5,963.6 1366.5,962.3 1366.5,964.9" stroke-width="0.3" fill="#1a1a18"/>
<polygon points="1972,963.6 1963,964.9 1963,962.3" stroke-width="0.3" fill="#1a1a18"/>
<text x="1625.74" y="958.19" font-size="50" fill="#2b2a29" stroke="none">420</text>
<line x1="1328.9" y1="1213.4" x2="1663.8" y2="1213.4" stroke-width="1"/>
<line x1="1328.9" y1="1296" x2="1403.4" y2="1296" stroke-width="1"/>
<line x1="1337.5" y1="1213.4" x2="1337.5" y2="1233.5" stroke-width="1"/>
<line x1="1337.5" y1="1274" x2="1337.5" y2="1296" stroke-width="1"/>
<polygon points="1337.5,1213.8 1339,1226.8 1336,1226.8" stroke-width="0.3" fill="#1a1a18"/>
<polygon points="1337.5,1295.6 1336,1282.6 1339,1282.6" stroke-width="0.3" fill="#1a1a18"/>
<text x="1310.17" y="1270.81" font-size="50.5" fill="#2b2a29" stroke="none">52</text>
<line x1="1387.3" y1="1283.3" x2="1403.4" y2="1283.3" stroke-width="0.9"/>
<line x1="1395.4" y1="1266.7" x2="1395.4" y2="1283.3" stroke-width="0.9"/>
<line x1="1395.4" y1="1296" x2="1395.4" y2="1352.8" stroke-width="0.9"/>
<polygon points="1395.4,1283 1394,1275 1396.8,1275" stroke-width="0.3" fill="#1a1a18"/>
<polygon points="1395.4,1296.3 1396.8,1304.3 1394,1304.3" stroke-width="0.3" fill="#1a1a18"/>
<line x1="1361.2" y1="1352.8" x2="1395.4" y2="1352.8" stroke-width="0.8" stroke="#555"/>
<text x="1363.15" y="1347.18" font-size="51" fill="#2b2a29" stroke="none">8</text>
<rect x="1403.4" y="1283.4" width="484" height="12.9" stroke-width="1.2" fill="none" rx="2"/>
<line x1="1404.5" y1="1285" x2="1886.3" y2="1285" stroke-width="0.6" stroke="#666"/>
<rect x="1468" y="1296.6" width="10.8" height="4.2" stroke-width="1" fill="none"/>
<line x1="1473.4" y1="1296.6" x2="1473.4" y2="1300.8" stroke-width="0.7"/>
<rect x="1482.9" y="1296.6" width="14.9" height="4.2" stroke-width="1" fill="none"/>
<line x1="1490.35" y1="1296.6" x2="1490.35" y2="1300.8" stroke-width="0.7"/>
<rect x="1501.1" y="1296.6" width="22.4" height="4.2" stroke-width="1" fill="none"/>
<line x1="1508.57" y1="1296.6" x2="1508.57" y2="1300.8" stroke-width="0.7"/>
<line x1="1516.03" y1="1296.6" x2="1516.03" y2="1300.8" stroke-width="0.7"/>
<rect x="1525.1" y="1296.6" width="21.6" height="4.2" stroke-width="1" fill="none"/>
<line x1="1532.3" y1="1296.6" x2="1532.3" y2="1300.8" stroke-width="0.7"/>
<line x1="1539.5" y1="1296.6" x2="1539.5" y2="1300.8" stroke-width="0.7"/>
<rect x="1548.3" y="1296.6" width="13.3" height="4.2" stroke-width="1" fill="none"/>
<line x1="1554.95" y1="1296.6" x2="1554.95" y2="1300.8" stroke-width="0.7"/>
<rect x="1564.4" y="1296.6" width="8.8" height="4.2" stroke-width="1" fill="none"/>
<rect x="1575" y="1296.6" width="7.9" height="4.2" stroke-width="1" fill="none"/>
<rect x="1584.6" y="1296.6" width="34.4" height="4.2" stroke-width="1" fill="none"/>
<line x1="1591.48" y1="1296.6" x2="1591.48" y2="1300.8" stroke-width="0.7"/>
<line x1="1598.36" y1="1296.6" x2="1598.36" y2="1300.8" stroke-width="0.7"/>
<line x1="1605.24" y1="1296.6" x2="1605.24" y2="1300.8" stroke-width="0.7"/>
<line x1="1612.12" y1="1296.6" x2="1612.12" y2="1300.8" stroke-width="0.7"/>
<rect x="1621.6" y="1296.6" width="17.6" height="4.2" stroke-width="1" fill="none"/>
<line x1="1627.47" y1="1296.6" x2="1627.47" y2="1300.8" stroke-width="0.7"/>
<line x1="1633.33" y1="1296.6" x2="1633.33" y2="1300.8" stroke-width="0.7"/>
<rect x="1641.8" y="1296.6" width="7.1" height="4.2" stroke-width="1" fill="none"/>
<rect x="1651.5" y="1296.6" width="16.7" height="4.2" stroke-width="1" fill="none"/>
<line x1="1657.07" y1="1296.6" x2="1657.07" y2="1300.8" stroke-width="0.7"/>
<line x1="1662.63" y1="1296.6" x2="1662.63" y2="1300.8" stroke-width="0.7"/>
<rect x="1670.9" y="1296.6" width="55.4" height="4.2" stroke-width="1" fill="none"/>
<line x1="1677.06" y1="1296.6" x2="1677.06" y2="1300.8" stroke-width="0.7"/>
<line x1="1683.21" y1="1296.6" x2="1683.21" y2="1300.8" stroke-width="0.7"/>
<line x1="1689.37" y1="1296.6" x2="1689.37" y2="1300.8" stroke-width="0.7"/>
<line x1="1695.52" y1="1296.6" x2="1695.52" y2="1300.8" stroke-width="0.7"/>
<line x1="1701.68" y1="1296.6" x2="1701.68" y2="1300.8" stroke-width="0.7"/>
<line x1="1707.83" y1="1296.6" x2="1707.83" y2="1300.8" stroke-width="0.7"/>
<line x1="1713.99" y1="1296.6" x2="1713.99" y2="1300.8" stroke-width="0.7"/>
<line x1="1720.14" y1="1296.6" x2="1720.14" y2="1300.8" stroke-width="0.7"/>
<rect x="1729" y="1296.6" width="60.7" height="4.2" stroke-width="1" fill="none"/>
<line x1="1735.74" y1="1296.6" x2="1735.74" y2="1300.8" stroke-width="0.7"/>
<line x1="1742.49" y1="1296.6" x2="1742.49" y2="1300.8" stroke-width="0.7"/>
<line x1="1749.23" y1="1296.6" x2="1749.23" y2="1300.8" stroke-width="0.7"/>
<line x1="1755.98" y1="1296.6" x2="1755.98" y2="1300.8" stroke-width="0.7"/>
<line x1="1762.72" y1="1296.6" x2="1762.72" y2="1300.8" stroke-width="0.7"/>
<line x1="1769.47" y1="1296.6" x2="1769.47" y2="1300.8" stroke-width="0.7"/>
<line x1="1776.21" y1="1296.6" x2="1776.21" y2="1300.8" stroke-width="0.7"/>
<line x1="1782.96" y1="1296.6" x2="1782.96" y2="1300.8" stroke-width="0.7"/>
<rect x="1793.2" y="1296.6" width="14.9" height="4.2" stroke-width="1" fill="none"/>
<line x1="1800.65" y1="1296.6" x2="1800.65" y2="1300.8" stroke-width="0.7"/>
<rect x="1811.7" y="1296.6" width="11.4" height="4.2" stroke-width="1" fill="none"/>
<line x1="1817.4" y1="1296.6" x2="1817.4" y2="1300.8" stroke-width="0.7"/>
<rect x="1621.6" y="1244.7" width="47.5" height="38.7" stroke-width="1.1" fill="none"/>
<line x1="1621.6" y1="1251.5" x2="1622.6" y2="1251.5" stroke-width="0.6"/>
<line x1="1668.1" y1="1251.5" x2="1669.1" y2="1251.5" stroke-width="0.6"/>
<path d="M1626.9,1233.3 L1630.6,1235.5 L1630.6,1240.6 L1626.9,1244.7 M1663.8,1233.3 L1660.1,1235.5 L1660.1,1240.6 L1663.8,1244.7" stroke-width="0.9" fill="none"/>
<line x1="1630.6" y1="1235.5" x2="1660.1" y2="1235.5" stroke-width="0.7"/>
<line x1="1630.6" y1="1240.6" x2="1660.1" y2="1240.6" stroke-width="0.7"/>
<line x1="1628" y1="1243.5" x2="1662.7" y2="1243.5" stroke-width="0.6"/>
<rect x="1626.9" y="1213.6" width="36.9" height="19.7" stroke-width="1.2" fill="none"/>
<line x1="1626.9" y1="1196.3" x2="1626.9" y2="1233.3" stroke-width="0.7"/>
<line x1="1663.8" y1="1196.3" x2="1663.8" y2="1233.3" stroke-width="0.7"/>
<line x1="1626.9" y1="1204.2" x2="1733.4" y2="1204.2" stroke-width="0.9"/>
<polygon points="1627.1,1204.2 1634.1,1202.8 1634.1,1205.6" stroke-width="0.3" fill="#1a1a18"/>
<polygon points="1663.6,1204.2 1656.6,1205.6 1656.6,1202.8" stroke-width="0.3" fill="#1a1a18"/>
<text x="1668.61" y="1197.32" font-size="50" fill="#2b2a29" stroke="none">G /2</text><polygon points="1720.08,1197.32 1720.08,1167.12 1712.31,1172.67 1712.31,1168.52 1720.44,1162.93 1724.5,1162.93 1724.5,1197.32" fill="#2b2a29" stroke="none"/>
<circle cx="1645.7" cy="1645.6" r="241.7" stroke-width="1" fill="none"/>
<circle cx="1645.7" cy="1645.6" r="240.6" stroke-width="0.6" fill="none"/>
<line x1="1485.1" y1="1847.8" x2="1824.3" y2="1419.4" stroke-width="0.9"/>
<line x1="1824.3" y1="1419.4" x2="1891.9" y2="1419.4" stroke-width="0.9"/>
<polygon points="1495.35,1834.85 1490.32,1843.62 1487.97,1841.76" stroke-width="0.3" fill="#1a1a18"/>
<polygon points="1795.43,1455.86 1800.46,1447.09 1802.81,1448.95" stroke-width="0.3" fill="#1a1a18"/>
<text x="1823.97" y="1412.5" font-size="50" fill="#2b2a29" stroke="none">Ø300</text>
<g stroke-width="1.15"><circle cx="1665.05" cy="1645.6" r="3.0"/><circle cx="1655.38" cy="1662.36" r="3.0"/><circle cx="1636.03" cy="1662.36" r="3.0"/><circle cx="1626.35" cy="1645.6" r="3.0"/><circle cx="1636.03" cy="1628.84" r="3.0"/><circle cx="1655.38" cy="1628.84" r="3.0"/><circle cx="1684.4" cy="1645.6" r="3.0"/><circle cx="1679.22" cy="1664.95" r="3.0"/><circle cx="1665.05" cy="1679.12" r="3.0"/><circle cx="1645.7" cy="1684.3" r="3.0"/><circle cx="1626.35" cy="1679.12" r="3.0"/><circle cx="1612.18" cy="1664.95" r="3.0"/><circle cx="1607" cy="1645.6" r="3.0"/><circle cx="1612.18" cy="1626.25" r="3.0"/><circle cx="1626.35" cy="1612.08" r="3.0"/><circle cx="1645.7" cy="1606.9" r="3.0"/><circle cx="1665.05" cy="1612.08" r="3.0"/><circle cx="1679.22" cy="1626.25" r="3.0"/><circle cx="1703.75" cy="1645.6" r="3.0"/><circle cx="1700.25" cy="1665.45" r="3.0"/><circle cx="1690.17" cy="1682.91" r="3.0"/><circle cx="1674.73" cy="1695.87" r="3.0"/><circle cx="1655.78" cy="1702.77" r="3.0"/><circle cx="1635.62" cy="1702.77" r="3.0"/><circle cx="1616.67" cy="1695.87" r="3.0"/><circle cx="1601.23" cy="1682.91" r="3.0"/><circle cx="1591.15" cy="1665.45" r="3.0"/><circle cx="1587.65" cy="1645.6" r="3.0"/><circle cx="1591.15" cy="1625.75" r="3.0"/><circle cx="1601.23" cy="1608.29" r="3.0"/><circle cx="1616.67" cy="1595.33" r="3.0"/><circle cx="1635.62" cy="1588.43" r="3.0"/><circle cx="1655.78" cy="1588.43" r="3.0"/><circle cx="1674.72" cy="1595.33" r="3.0"/><circle cx="1690.17" cy="1608.29" r="3.0"/><circle cx="1700.25" cy="1625.75" r="3.0"/><circle cx="1723.1" cy="1645.6" r="3.0"/><circle cx="1720.46" cy="1665.63" r="3.0"/><circle cx="1712.73" cy="1684.3" r="3.0"/><circle cx="1700.43" cy="1700.33" r="3.0"/><circle cx="1684.4" cy="1712.63" r="3.0"/><circle cx="1665.73" cy="1720.36" r="3.0"/><circle cx="1645.7" cy="1723" r="3.0"/><circle cx="1625.67" cy="1720.36" r="3.0"/><circle cx="1607" cy="1712.63" r="3.0"/><circle cx="1590.97" cy="1700.33" r="3.0"/><circle cx="1578.67" cy="1684.3" r="3.0"/><circle cx="1570.94" cy="1665.63" r="3.0"/><circle cx="1568.3" cy="1645.6" r="3.0"/><circle cx="1570.94" cy="1625.57" r="3.0"/><circle cx="1578.67" cy="1606.9" r="3.0"/><circle cx="1590.97" cy="1590.87" r="3.0"/><circle cx="1607" cy="1578.57" r="3.0"/><circle cx="1625.67" cy="1570.84" r="3.0"/><circle cx="1645.7" cy="1568.2" r="3.0"/><circle cx="1665.73" cy="1570.84" r="3.0"/><circle cx="1684.4" cy="1578.57" r="3.0"/><circle cx="1700.43" cy="1590.87" r="3.0"/><circle cx="1712.73" cy="1606.9" r="3.0"/><circle cx="1720.46" cy="1625.57" r="3.0"/><circle cx="1742.45" cy="1645.6" r="3.0"/><circle cx="1740.34" cy="1665.72" r="3.0"/><circle cx="1734.09" cy="1684.95" r="3.0"/><circle cx="1723.97" cy="1702.47" r="3.0"/><circle cx="1710.44" cy="1717.5" r="3.0"/><circle cx="1694.08" cy="1729.39" r="3.0"/><circle cx="1675.6" cy="1737.61" r="3.0"/><circle cx="1655.81" cy="1741.82" r="3.0"/><circle cx="1635.59" cy="1741.82" r="3.0"/><circle cx="1615.8" cy="1737.61" r="3.0"/><circle cx="1597.33" cy="1729.39" r="3.0"/><circle cx="1580.96" cy="1717.5" r="3.0"/><circle cx="1567.43" cy="1702.47" r="3.0"/><circle cx="1557.31" cy="1684.95" r="3.0"/><circle cx="1551.06" cy="1665.72" r="3.0"/><circle cx="1548.95" cy="1645.6" r="3.0"/><circle cx="1551.06" cy="1625.48" r="3.0"/><circle cx="1557.31" cy="1606.25" r="3.0"/><circle cx="1567.43" cy="1588.73" r="3.0"/><circle cx="1580.96" cy="1573.7" r="3.0"/><circle cx="1597.33" cy="1561.81" r="3.0"/><circle cx="1615.8" cy="1553.59" r="3.0"/><circle cx="1635.59" cy="1549.38" r="3.0"/><circle cx="1655.81" cy="1549.38" r="3.0"/><circle cx="1675.6" cy="1553.59" r="3.0"/><circle cx="1694.08" cy="1561.81" r="3.0"/><circle cx="1710.44" cy="1573.7" r="3.0"/><circle cx="1723.97" cy="1588.73" r="3.0"/><circle cx="1734.09" cy="1606.25" r="3.0"/><circle cx="1740.34" cy="1625.48" r="3.0"/><circle cx="1761.8" cy="1645.6" r="3.0"/><circle cx="1759.26" cy="1669.74" r="3.0"/><circle cx="1751.76" cy="1692.82" r="3.0"/><circle cx="1739.63" cy="1713.84" r="3.0"/><circle cx="1723.39" cy="1731.88" r="3.0"/><circle cx="1703.75" cy="1746.15" r="3.0"/><circle cx="1681.58" cy="1756.02" r="3.0"/><circle cx="1657.84" cy="1761.06" r="3.0"/><circle cx="1633.56" cy="1761.06" r="3.0"/><circle cx="1609.82" cy="1756.02" r="3.0"/><circle cx="1587.65" cy="1746.15" r="3.0"/><circle cx="1568.01" cy="1731.88" r="3.0"/><circle cx="1551.77" cy="1713.84" r="3.0"/><circle cx="1539.64" cy="1692.82" r="3.0"/><circle cx="1532.14" cy="1669.74" r="3.0"/><circle cx="1529.6" cy="1645.6" r="3.0"/><circle cx="1532.14" cy="1621.46" r="3.0"/><circle cx="1539.64" cy="1598.38" r="3.0"/><circle cx="1551.77" cy="1577.36" r="3.0"/><circle cx="1568.01" cy="1559.32" r="3.0"/><circle cx="1587.65" cy="1545.05" r="3.0"/><circle cx="1609.82" cy="1535.18" r="3.0"/><circle cx="1633.56" cy="1530.14" r="3.0"/><circle cx="1657.84" cy="1530.14" r="3.0"/><circle cx="1681.58" cy="1535.18" r="3.0"/><circle cx="1703.75" cy="1545.05" r="3.0"/><circle cx="1723.39" cy="1559.32" r="3.0"/><circle cx="1739.63" cy="1577.36" r="3.0"/><circle cx="1751.76" cy="1598.38" r="3.0"/><circle cx="1759.26" cy="1621.46" r="3.0"/><circle cx="1781.15" cy="1645.6" r="3.0"/><circle cx="1778.19" cy="1673.76" r="3.0"/><circle cx="1769.44" cy="1700.69" r="3.0"/><circle cx="1755.28" cy="1725.22" r="3.0"/><circle cx="1736.33" cy="1746.26" r="3.0"/><circle cx="1713.43" cy="1762.9" r="3.0"/><circle cx="1687.56" cy="1774.42" r="3.0"/><circle cx="1659.86" cy="1780.31" r="3.0"/><circle cx="1631.54" cy="1780.31" r="3.0"/><circle cx="1603.84" cy="1774.42" r="3.0"/><circle cx="1577.98" cy="1762.9" r="3.0"/><circle cx="1555.07" cy="1746.26" r="3.0"/><circle cx="1536.12" cy="1725.22" r="3.0"/><circle cx="1521.96" cy="1700.69" r="3.0"/><circle cx="1513.21" cy="1673.76" r="3.0"/><circle cx="1510.25" cy="1645.6" r="3.0"/><circle cx="1513.21" cy="1617.44" r="3.0"/><circle cx="1521.96" cy="1590.51" r="3.0"/><circle cx="1536.12" cy="1565.98" r="3.0"/><circle cx="1555.07" cy="1544.94" r="3.0"/><circle cx="1577.97" cy="1528.3" r="3.0"/><circle cx="1603.84" cy="1516.78" r="3.0"/><circle cx="1631.54" cy="1510.89" r="3.0"/><circle cx="1659.86" cy="1510.89" r="3.0"/><circle cx="1687.56" cy="1516.78" r="3.0"/><circle cx="1713.43" cy="1528.3" r="3.0"/><circle cx="1736.33" cy="1544.94" r="3.0"/><circle cx="1755.28" cy="1565.98" r="3.0"/><circle cx="1769.44" cy="1590.51" r="3.0"/><circle cx="1778.19" cy="1617.44" r="3.0"/><circle cx="1800.5" cy="1645.6" r="3.0"/><circle cx="1797.12" cy="1677.78" r="3.0"/><circle cx="1787.12" cy="1708.56" r="3.0"/><circle cx="1770.94" cy="1736.59" r="3.0"/><circle cx="1749.28" cy="1760.64" r="3.0"/><circle cx="1723.1" cy="1779.66" r="3.0"/><circle cx="1693.54" cy="1792.82" r="3.0"/><circle cx="1661.88" cy="1799.55" r="3.0"/><circle cx="1629.52" cy="1799.55" r="3.0"/><circle cx="1597.86" cy="1792.82" r="3.0"/><circle cx="1568.3" cy="1779.66" r="3.0"/><circle cx="1542.12" cy="1760.64" r="3.0"/><circle cx="1520.46" cy="1736.59" r="3.0"/><circle cx="1504.28" cy="1708.56" r="3.0"/><circle cx="1494.28" cy="1677.78" r="3.0"/><circle cx="1490.9" cy="1645.6" r="3.0"/><circle cx="1494.28" cy="1613.42" r="3.0"/><circle cx="1504.28" cy="1582.64" r="3.0"/><circle cx="1520.46" cy="1554.61" r="3.0"/><circle cx="1542.12" cy="1530.56" r="3.0"/><circle cx="1568.3" cy="1511.54" r="3.0"/><circle cx="1597.86" cy="1498.38" r="3.0"/><circle cx="1629.52" cy="1491.65" r="3.0"/><circle cx="1661.88" cy="1491.65" r="3.0"/><circle cx="1693.54" cy="1498.38" r="3.0"/><circle cx="1723.1" cy="1511.54" r="3.0"/><circle cx="1749.28" cy="1530.56" r="3.0"/><circle cx="1770.94" cy="1554.61" r="3.0"/><circle cx="1787.12" cy="1582.64" r="3.0"/><circle cx="1797.12" cy="1613.42" r="3.0"/><circle cx="1819.85" cy="1645.6" r="3.0"/><circle cx="1816.04" cy="1681.81" r="3.0"/><circle cx="1804.79" cy="1716.43" r="3.0"/><circle cx="1786.59" cy="1747.96" r="3.0"/><circle cx="1762.23" cy="1775.02" r="3.0"/><circle cx="1732.78" cy="1796.42" r="3.0"/><circle cx="1699.52" cy="1811.23" r="3.0"/><circle cx="1663.9" cy="1818.8" r="3.0"/><circle cx="1627.5" cy="1818.8" r="3.0"/><circle cx="1591.88" cy="1811.23" r="3.0"/><circle cx="1558.62" cy="1796.42" r="3.0"/><circle cx="1529.17" cy="1775.02" r="3.0"/><circle cx="1504.81" cy="1747.96" r="3.0"/><circle cx="1486.61" cy="1716.43" r="3.0"/><circle cx="1475.36" cy="1681.81" r="3.0"/><circle cx="1471.55" cy="1645.6" r="3.0"/><circle cx="1475.36" cy="1609.39" r="3.0"/><circle cx="1486.61" cy="1574.77" r="3.0"/><circle cx="1504.81" cy="1543.24" r="3.0"/><circle cx="1529.17" cy="1516.18" r="3.0"/><circle cx="1558.62" cy="1494.78" r="3.0"/><circle cx="1591.88" cy="1479.97" r="3.0"/><circle cx="1627.5" cy="1472.4" r="3.0"/><circle cx="1663.9" cy="1472.4" r="3.0"/><circle cx="1699.52" cy="1479.97" r="3.0"/><circle cx="1732.78" cy="1494.78" r="3.0"/><circle cx="1762.23" cy="1516.18" r="3.0"/><circle cx="1786.59" cy="1543.24" r="3.0"/><circle cx="1804.79" cy="1574.77" r="3.0"/><circle cx="1816.04" cy="1609.39" r="3.0"/></g>
<g fill="#333" stroke="none"><circle cx="1665.05" cy="1645.6" r="1.0"/><circle cx="1655.38" cy="1662.36" r="1.0"/><circle cx="1636.03" cy="1662.36" r="1.0"/><circle cx="1626.35" cy="1645.6" r="1.0"/><circle cx="1636.03" cy="1628.84" r="1.0"/><circle cx="1655.38" cy="1628.84" r="1.0"/><circle cx="1684.4" cy="1645.6" r="1.0"/><circle cx="1679.22" cy="1664.95" r="1.0"/><circle cx="1665.05" cy="1679.12" r="1.0"/><circle cx="1645.7" cy="1684.3" r="1.0"/><circle cx="1626.35" cy="1679.12" r="1.0"/><circle cx="1612.18" cy="1664.95" r="1.0"/><circle cx="1607" cy="1645.6" r="1.0"/><circle cx="1612.18" cy="1626.25" r="1.0"/><circle cx="1626.35" cy="1612.08" r="1.0"/><circle cx="1645.7" cy="1606.9" r="1.0"/><circle cx="1665.05" cy="1612.08" r="1.0"/><circle cx="1679.22" cy="1626.25" r="1.0"/><circle cx="1703.75" cy="1645.6" r="1.0"/><circle cx="1700.25" cy="1665.45" r="1.0"/><circle cx="1690.17" cy="1682.91" r="1.0"/><circle cx="1674.73" cy="1695.87" r="1.0"/><circle cx="1655.78" cy="1702.77" r="1.0"/><circle cx="1635.62" cy="1702.77" r="1.0"/><circle cx="1616.67" cy="1695.87" r="1.0"/><circle cx="1601.23" cy="1682.91" r="1.0"/><circle cx="1591.15" cy="1665.45" r="1.0"/><circle cx="1587.65" cy="1645.6" r="1.0"/><circle cx="1591.15" cy="1625.75" r="1.0"/><circle cx="1601.23" cy="1608.29" r="1.0"/><circle cx="1616.67" cy="1595.33" r="1.0"/><circle cx="1635.62" cy="1588.43" r="1.0"/><circle cx="1655.78" cy="1588.43" r="1.0"/><circle cx="1674.72" cy="1595.33" r="1.0"/><circle cx="1690.17" cy="1608.29" r="1.0"/><circle cx="1700.25" cy="1625.75" r="1.0"/><circle cx="1723.1" cy="1645.6" r="1.0"/><circle cx="1720.46" cy="1665.63" r="1.0"/><circle cx="1712.73" cy="1684.3" r="1.0"/><circle cx="1700.43" cy="1700.33" r="1.0"/><circle cx="1684.4" cy="1712.63" r="1.0"/><circle cx="1665.73" cy="1720.36" r="1.0"/><circle cx="1645.7" cy="1723" r="1.0"/><circle cx="1625.67" cy="1720.36" r="1.0"/><circle cx="1607" cy="1712.63" r="1.0"/><circle cx="1590.97" cy="1700.33" r="1.0"/><circle cx="1578.67" cy="1684.3" r="1.0"/><circle cx="1570.94" cy="1665.63" r="1.0"/><circle cx="1568.3" cy="1645.6" r="1.0"/><circle cx="1570.94" cy="1625.57" r="1.0"/><circle cx="1578.67" cy="1606.9" r="1.0"/><circle cx="1590.97" cy="1590.87" r="1.0"/><circle cx="1607" cy="1578.57" r="1.0"/><circle cx="1625.67" cy="1570.84" r="1.0"/><circle cx="1645.7" cy="1568.2" r="1.0"/><circle cx="1665.73" cy="1570.84" r="1.0"/><circle cx="1684.4" cy="1578.57" r="1.0"/><circle cx="1700.43" cy="1590.87" r="1.0"/><circle cx="1712.73" cy="1606.9" r="1.0"/><circle cx="1720.46" cy="1625.57" r="1.0"/><circle cx="1742.45" cy="1645.6" r="1.0"/><circle cx="1740.34" cy="1665.72" r="1.0"/><circle cx="1734.09" cy="1684.95" r="1.0"/><circle cx="1723.97" cy="1702.47" r="1.0"/><circle cx="1710.44" cy="1717.5" r="1.0"/><circle cx="1694.08" cy="1729.39" r="1.0"/><circle cx="1675.6" cy="1737.61" r="1.0"/><circle cx="1655.81" cy="1741.82" r="1.0"/><circle cx="1635.59" cy="1741.82" r="1.0"/><circle cx="1615.8" cy="1737.61" r="1.0"/><circle cx="1597.33" cy="1729.39" r="1.0"/><circle cx="1580.96" cy="1717.5" r="1.0"/><circle cx="1567.43" cy="1702.47" r="1.0"/><circle cx="1557.31" cy="1684.95" r="1.0"/><circle cx="1551.06" cy="1665.72" r="1.0"/><circle cx="1548.95" cy="1645.6" r="1.0"/><circle cx="1551.06" cy="1625.48" r="1.0"/><circle cx="1557.31" cy="1606.25" r="1.0"/><circle cx="1567.43" cy="1588.73" r="1.0"/><circle cx="1580.96" cy="1573.7" r="1.0"/><circle cx="1597.33" cy="1561.81" r="1.0"/><circle cx="1615.8" cy="1553.59" r="1.0"/><circle cx="1635.59" cy="1549.38" r="1.0"/><circle cx="1655.81" cy="1549.38" r="1.0"/><circle cx="1675.6" cy="1553.59" r="1.0"/><circle cx="1694.08" cy="1561.81" r="1.0"/><circle cx="1710.44" cy="1573.7" r="1.0"/><circle cx="1723.97" cy="1588.73" r="1.0"/><circle cx="1734.09" cy="1606.25" r="1.0"/><circle cx="1740.34" cy="1625.48" r="1.0"/><circle cx="1761.8" cy="1645.6" r="1.0"/><circle cx="1759.26" cy="1669.74" r="1.0"/><circle cx="1751.76" cy="1692.82" r="1.0"/><circle cx="1739.63" cy="1713.84" r="1.0"/><circle cx="1723.39" cy="1731.88" r="1.0"/><circle cx="1703.75" cy="1746.15" r="1.0"/><circle cx="1681.58" cy="1756.02" r="1.0"/><circle cx="1657.84" cy="1761.06" r="1.0"/><circle cx="1633.56" cy="1761.06" r="1.0"/><circle cx="1609.82" cy="1756.02" r="1.0"/><circle cx="1587.65" cy="1746.15" r="1.0"/><circle cx="1568.01" cy="1731.88" r="1.0"/><circle cx="1551.77" cy="1713.84" r="1.0"/><circle cx="1539.64" cy="1692.82" r="1.0"/><circle cx="1532.14" cy="1669.74" r="1.0"/><circle cx="1529.6" cy="1645.6" r="1.0"/><circle cx="1532.14" cy="1621.46" r="1.0"/><circle cx="1539.64" cy="1598.38" r="1.0"/><circle cx="1551.77" cy="1577.36" r="1.0"/><circle cx="1568.01" cy="1559.32" r="1.0"/><circle cx="1587.65" cy="1545.05" r="1.0"/><circle cx="1609.82" cy="1535.18" r="1.0"/><circle cx="1633.56" cy="1530.14" r="1.0"/><circle cx="1657.84" cy="1530.14" r="1.0"/><circle cx="1681.58" cy="1535.18" r="1.0"/><circle cx="1703.75" cy="1545.05" r="1.0"/><circle cx="1723.39" cy="1559.32" r="1.0"/><circle cx="1739.63" cy="1577.36" r="1.0"/><circle cx="1751.76" cy="1598.38" r="1.0"/><circle cx="1759.26" cy="1621.46" r="1.0"/><circle cx="1781.15" cy="1645.6" r="1.0"/><circle cx="1778.19" cy="1673.76" r="1.0"/><circle cx="1769.44" cy="1700.69" r="1.0"/><circle cx="1755.28" cy="1725.22" r="1.0"/><circle cx="1736.33" cy="1746.26" r="1.0"/><circle cx="1713.43" cy="1762.9" r="1.0"/><circle cx="1687.56" cy="1774.42" r="1.0"/><circle cx="1659.86" cy="1780.31" r="1.0"/><circle cx="1631.54" cy="1780.31" r="1.0"/><circle cx="1603.84" cy="1774.42" r="1.0"/><circle cx="1577.98" cy="1762.9" r="1.0"/><circle cx="1555.07" cy="1746.26" r="1.0"/><circle cx="1536.12" cy="1725.22" r="1.0"/><circle cx="1521.96" cy="1700.69" r="1.0"/><circle cx="1513.21" cy="1673.76" r="1.0"/><circle cx="1510.25" cy="1645.6" r="1.0"/><circle cx="1513.21" cy="1617.44" r="1.0"/><circle cx="1521.96" cy="1590.51" r="1.0"/><circle cx="1536.12" cy="1565.98" r="1.0"/><circle cx="1555.07" cy="1544.94" r="1.0"/><circle cx="1577.97" cy="1528.3" r="1.0"/><circle cx="1603.84" cy="1516.78" r="1.0"/><circle cx="1631.54" cy="1510.89" r="1.0"/><circle cx="1659.86" cy="1510.89" r="1.0"/><circle cx="1687.56" cy="1516.78" r="1.0"/><circle cx="1713.43" cy="1528.3" r="1.0"/><circle cx="1736.33" cy="1544.94" r="1.0"/><circle cx="1755.28" cy="1565.98" r="1.0"/><circle cx="1769.44" cy="1590.51" r="1.0"/><circle cx="1778.19" cy="1617.44" r="1.0"/><circle cx="1800.5" cy="1645.6" r="1.0"/><circle cx="1797.12" cy="1677.78" r="1.0"/><circle cx="1787.12" cy="1708.56" r="1.0"/><circle cx="1770.94" cy="1736.59" r="1.0"/><circle cx="1749.28" cy="1760.64" r="1.0"/><circle cx="1723.1" cy="1779.66" r="1.0"/><circle cx="1693.54" cy="1792.82" r="1.0"/><circle cx="1661.88" cy="1799.55" r="1.0"/><circle cx="1629.52" cy="1799.55" r="1.0"/><circle cx="1597.86" cy="1792.82" r="1.0"/><circle cx="1568.3" cy="1779.66" r="1.0"/><circle cx="1542.12" cy="1760.64" r="1.0"/><circle cx="1520.46" cy="1736.59" r="1.0"/><circle cx="1504.28" cy="1708.56" r="1.0"/><circle cx="1494.28" cy="1677.78" r="1.0"/><circle cx="1490.9" cy="1645.6" r="1.0"/><circle cx="1494.28" cy="1613.42" r="1.0"/><circle cx="1504.28" cy="1582.64" r="1.0"/><circle cx="1520.46" cy="1554.61" r="1.0"/><circle cx="1542.12" cy="1530.56" r="1.0"/><circle cx="1568.3" cy="1511.54" r="1.0"/><circle cx="1597.86" cy="1498.38" r="1.0"/><circle cx="1629.52" cy="1491.65" r="1.0"/><circle cx="1661.88" cy="1491.65" r="1.0"/><circle cx="1693.54" cy="1498.38" r="1.0"/><circle cx="1723.1" cy="1511.54" r="1.0"/><circle cx="1749.28" cy="1530.56" r="1.0"/><circle cx="1770.94" cy="1554.61" r="1.0"/><circle cx="1787.12" cy="1582.64" r="1.0"/><circle cx="1797.12" cy="1613.42" r="1.0"/><circle cx="1819.85" cy="1645.6" r="1.0"/><circle cx="1816.04" cy="1681.81" r="1.0"/><circle cx="1804.79" cy="1716.43" r="1.0"/><circle cx="1786.59" cy="1747.96" r="1.0"/><circle cx="1762.23" cy="1775.02" r="1.0"/><circle cx="1732.78" cy="1796.42" r="1.0"/><circle cx="1699.52" cy="1811.23" r="1.0"/><circle cx="1663.9" cy="1818.8" r="1.0"/><circle cx="1627.5" cy="1818.8" r="1.0"/><circle cx="1591.88" cy="1811.23" r="1.0"/><circle cx="1558.62" cy="1796.42" r="1.0"/><circle cx="1529.17" cy="1775.02" r="1.0"/><circle cx="1504.81" cy="1747.96" r="1.0"/><circle cx="1486.61" cy="1716.43" r="1.0"/><circle cx="1475.36" cy="1681.81" r="1.0"/><circle cx="1471.55" cy="1645.6" r="1.0"/><circle cx="1475.36" cy="1609.39" r="1.0"/><circle cx="1486.61" cy="1574.77" r="1.0"/><circle cx="1504.81" cy="1543.24" r="1.0"/><circle cx="1529.17" cy="1516.18" r="1.0"/><circle cx="1558.62" cy="1494.78" r="1.0"/><circle cx="1591.88" cy="1479.97" r="1.0"/><circle cx="1627.5" cy="1472.4" r="1.0"/><circle cx="1663.9" cy="1472.4" r="1.0"/><circle cx="1699.52" cy="1479.97" r="1.0"/><circle cx="1732.78" cy="1494.78" r="1.0"/><circle cx="1762.23" cy="1516.18" r="1.0"/><circle cx="1786.59" cy="1543.24" r="1.0"/><circle cx="1804.79" cy="1574.77" r="1.0"/><circle cx="1816.04" cy="1609.39" r="1.0"/></g>
<circle cx="222.4" cy="1520" r="57.4" stroke-width="0.8" fill="none"/>
<circle cx="222.4" cy="1520" r="55.8" stroke-width="0.8" fill="none"/>
<circle cx="222.4" cy="1520" r="31" stroke-width="1.2" fill="none"/>
<line x1="206.5" y1="1494.3" x2="206.5" y2="1544.3" stroke-width="1"/>
<line x1="238.7" y1="1494.3" x2="238.7" y2="1544.3" stroke-width="1"/>
<rect x="202.2" y="1544.3" width="40.4" height="8.7" stroke-width="1" fill="none"/>
<rect x="202.8" y="1553.5" width="39.8" height="24.5" stroke-width="1.1" fill="#6e6e6e"/>
<line x1="202" y1="1554.1" x2="243.4" y2="1555" stroke-width="1.3" stroke="#141414"/>
<line x1="202" y1="1557.4" x2="243.4" y2="1558.3" stroke-width="1.3" stroke="#141414"/>
<line x1="202" y1="1560.7" x2="243.4" y2="1561.6" stroke-width="1.3" stroke="#141414"/>
<line x1="202" y1="1564" x2="243.4" y2="1564.9" stroke-width="1.3" stroke="#141414"/>
<line x1="202" y1="1567.3" x2="243.4" y2="1568.2" stroke-width="1.3" stroke="#141414"/>
<line x1="202" y1="1570.6" x2="243.4" y2="1571.5" stroke-width="1.3" stroke="#141414"/>
<line x1="202" y1="1573.9" x2="243.4" y2="1574.8" stroke-width="1.3" stroke="#141414"/>
<line x1="202" y1="1577.2" x2="243.4" y2="1578.1" stroke-width="1.3" stroke="#141414"/>
<line x1="202.8" y1="1578" x2="242.6" y2="1578" stroke-width="1.4"/>
<line x1="94.1" y1="1459.1" x2="176.7" y2="1459.1" stroke-width="0.9"/>
<line x1="176.7" y1="1459.1" x2="268.7" y2="1581.3" stroke-width="0.9"/>
<polygon points="187.99,1474.3 181.3,1468.07 183.86,1466.14" stroke-width="0.8" fill="#fff"/>
<polygon points="256.81,1565.7 263.5,1571.93 260.94,1573.86" stroke-width="0.8" fill="#fff"/>
<text x="97.92" y="1447.28" font-size="49.5" fill="#2b2a29" stroke="none">Ø60</text>
<line x1="202.2" y1="1582.4" x2="202.2" y2="1607.4" stroke-width="0.8"/>
<line x1="242" y1="1582.4" x2="242" y2="1607.4" stroke-width="0.8"/>
<line x1="202.2" y1="1598" x2="242" y2="1598" stroke-width="0.8"/>
<polygon points="202.4,1598 211.4,1596.4 211.4,1599.6" stroke-width="0.8" fill="#fff"/>
<polygon points="241.8,1598 232.8,1599.6 232.8,1596.4" stroke-width="0.8" fill="#fff"/>
<text x="159.86" y="1648.08" font-size="50" fill="#2b2a29" stroke="none">G /2</text><polygon points="211.33,1648.08 211.33,1617.87 203.56,1623.42 203.56,1619.27 211.69,1613.68 215.75,1613.68 215.75,1648.08" fill="#2b2a29" stroke="none"/>
<line x1="202.2" y1="1656.3" x2="202.2" y2="1679" stroke-width="0.8"/>
<line x1="242" y1="1656.3" x2="242" y2="1679" stroke-width="0.8"/>
<line x1="202.2" y1="1665.7" x2="242" y2="1665.7" stroke-width="0.8"/>
<polygon points="202.4,1665.7 211.4,1664.1 211.4,1667.3" stroke-width="0.8" fill="#fff"/>
<polygon points="241.8,1665.7 232.8,1667.3 232.8,1664.1" stroke-width="0.8" fill="#fff"/>
<rect x="343.5" y="1463.5" width="19.1" height="113.5" stroke-width="1.1" fill="none"/>
<line x1="343.5" y1="1435.7" x2="343.5" y2="1693" stroke-width="1"/>
<line x1="362.6" y1="1435.7" x2="362.6" y2="1463.5" stroke-width="0.8"/>
<line x1="324.6" y1="1445" x2="402.8" y2="1445" stroke-width="0.8"/>
<polygon points="343.3,1445 334.3,1446.6 334.3,1443.4" stroke-width="0.8" fill="#fff"/>
<polygon points="362.8,1445 371.8,1443.4 371.8,1446.6" stroke-width="0.8" fill="#fff"/>
<text x="367.15" y="1437.79" font-size="49" fill="#2b2a29" stroke="none"> 0</text><polygon points="379.47,1437.79 379.47,1408.2 371.86,1413.63 371.86,1409.56 379.83,1404.08 383.8,1404.08 383.8,1437.79" fill="#2b2a29" stroke="none"/>
<rect x="316.3" y="1499.8" width="27.2" height="40.2" stroke-width="1.1" fill="#6e6e6e"/>
<line x1="316.9" y1="1499" x2="317.8" y2="1540.8" stroke-width="1.3" stroke="#141414"/>
<line x1="320.2" y1="1499" x2="321.1" y2="1540.8" stroke-width="1.3" stroke="#141414"/>
<line x1="323.5" y1="1499" x2="324.4" y2="1540.8" stroke-width="1.3" stroke="#141414"/>
<line x1="326.8" y1="1499" x2="327.7" y2="1540.8" stroke-width="1.3" stroke="#141414"/>
<line x1="330.1" y1="1499" x2="331" y2="1540.8" stroke-width="1.3" stroke="#141414"/>
<line x1="333.4" y1="1499" x2="334.3" y2="1540.8" stroke-width="1.3" stroke="#141414"/>
<line x1="336.7" y1="1499" x2="337.6" y2="1540.8" stroke-width="1.3" stroke="#141414"/>
<line x1="340" y1="1499" x2="340.9" y2="1540.8" stroke-width="1.3" stroke="#141414"/>
<line x1="343.3" y1="1499" x2="344.2" y2="1540.8" stroke-width="1.3" stroke="#141414"/>
<line x1="316.3" y1="1499.8" x2="316.3" y2="1540" stroke-width="1.4"/>
<line x1="362.6" y1="1489.6" x2="437.6" y2="1489.6" stroke-width="1"/>
<line x1="362.6" y1="1550.9" x2="392" y2="1550.9" stroke-width="1"/>
<path d="M437.6,1489.6 C448,1495 452,1503 462,1503 C470,1503 476,1496 483.3,1494.3" stroke-width="1" fill="none"/>
<path d="M437.6,1491.2 C448,1498 453,1506 462,1506 C471,1506 477,1499 483.3,1495.8" stroke-width="0.7" fill="none"/>
<path d="M432.2,1550.9 C444,1545 450,1538.5 461,1538.5 C470,1538.5 476,1543 483.3,1545.4" stroke-width="1" fill="none"/>
<path d="M432.2,1552.5 C445,1548 451,1541.5 461,1541.5 C471,1541.5 477,1546 483.3,1547" stroke-width="0.7" fill="none"/>
<line x1="483.9" y1="1494" x2="483.9" y2="1693" stroke-width="0.9"/>
<path d="M392,1550.9 Q412,1538 432.2,1550.9" stroke-width="1" fill="none"/>
<rect x="393" y="1553" width="39.2" height="25" stroke-width="1.1" fill="#6e6e6e"/>
<line x1="392.2" y1="1553.6" x2="433" y2="1554.5" stroke-width="1.3" stroke="#141414"/>
<line x1="392.2" y1="1556.9" x2="433" y2="1557.8" stroke-width="1.3" stroke="#141414"/>
<line x1="392.2" y1="1560.2" x2="433" y2="1561.1" stroke-width="1.3" stroke="#141414"/>
<line x1="392.2" y1="1563.5" x2="433" y2="1564.4" stroke-width="1.3" stroke="#141414"/>
<line x1="392.2" y1="1566.8" x2="433" y2="1567.7" stroke-width="1.3" stroke="#141414"/>
<line x1="392.2" y1="1570.1" x2="433" y2="1571" stroke-width="1.3" stroke="#141414"/>
<line x1="392.2" y1="1573.4" x2="433" y2="1574.3" stroke-width="1.3" stroke="#141414"/>
<line x1="392.2" y1="1576.7" x2="433" y2="1577.6" stroke-width="1.3" stroke="#141414"/>
<line x1="393" y1="1578" x2="432.2" y2="1578" stroke-width="1.4"/>
<line x1="411.5" y1="1561" x2="411.5" y2="1635.6" stroke-width="0.8"/>
<line x1="343.5" y1="1629.1" x2="411.5" y2="1629.1" stroke-width="0.8"/>
<polygon points="343.7,1629.1 352.7,1627.5 352.7,1630.7" stroke-width="0.8" fill="#fff"/>
<polygon points="411.3,1629.1 402.3,1630.7 402.3,1627.5" stroke-width="0.8" fill="#fff"/>
<text x="348.85" y="1621.12" font-size="49.5" fill="#2b2a29" stroke="none">36</text>
<line x1="343.5" y1="1686.7" x2="483.9" y2="1686.7" stroke-width="0.8"/>
<polygon points="343.7,1686.7 352.7,1685.1 352.7,1688.3" stroke-width="0.8" fill="#fff"/>
<polygon points="483.7,1686.7 474.7,1688.3 474.7,1685.1" stroke-width="0.8" fill="#fff"/>
<text x="381.76" y="1681.47" font-size="49.5" fill="#2b2a29" stroke="none">74</text>
<line x1="135.4" y1="1679.6" x2="201.7" y2="1679.6" stroke-width="0.9"/>
<rect x="202.8" y="1679.6" width="39.8" height="25.6" stroke-width="1.1" fill="#6e6e6e"/>
<line x1="202" y1="1680.2" x2="243.4" y2="1681.1" stroke-width="1.3" stroke="#141414"/>
<line x1="202" y1="1683.5" x2="243.4" y2="1684.4" stroke-width="1.3" stroke="#141414"/>
<line x1="202" y1="1686.8" x2="243.4" y2="1687.7" stroke-width="1.3" stroke="#141414"/>
<line x1="202" y1="1690.1" x2="243.4" y2="1691" stroke-width="1.3" stroke="#141414"/>
<line x1="202" y1="1693.4" x2="243.4" y2="1694.3" stroke-width="1.3" stroke="#141414"/>
<line x1="202" y1="1696.7" x2="243.4" y2="1697.6" stroke-width="1.3" stroke="#141414"/>
<line x1="202" y1="1700" x2="243.4" y2="1700.9" stroke-width="1.3" stroke="#141414"/>
<line x1="202" y1="1703.3" x2="243.4" y2="1704.2" stroke-width="1.3" stroke="#141414"/>
<line x1="202.8" y1="1705.2" x2="242.6" y2="1705.2" stroke-width="1.4"/>
<rect x="165.2" y="1706.3" width="114.4" height="18.9" stroke-width="1.1" fill="none" rx="1.5"/>
<line x1="191.3" y1="1725.2" x2="191.3" y2="1847" stroke-width="1"/>
<line x1="252.4" y1="1725.2" x2="252.4" y2="1847" stroke-width="1"/>
<path d="M206.2,1847 L206.2,1844.5 A25,25 0 1 1 238.7,1844.5 L238.7,1847" stroke-width="1" fill="none"/>
<path d="M206.2,1846.5 L206.2,1837 A20.8,20.8 0 1 1 238.7,1837 L238.7,1846.5" stroke-width="2.1" fill="none"/>
<line x1="135.4" y1="1847" x2="206.2" y2="1847" stroke-width="0.9"/>
<line x1="238.7" y1="1847" x2="252.4" y2="1847" stroke-width="0.9"/>
<line x1="145.2" y1="1679.6" x2="145.2" y2="1730" stroke-width="0.8"/>
<line x1="145.2" y1="1791" x2="145.2" y2="1847" stroke-width="0.8"/>
<polygon points="145.2,1679.8 146.8,1688.8 143.6,1688.8" stroke-width="0.8" fill="#fff"/>
<polygon points="145.2,1846.8 143.6,1837.8 146.8,1837.8" stroke-width="0.8" fill="#fff"/>
<text x="117.17" y="1777.46" font-size="50.5" fill="#2b2a29" stroke="none">88</text>
<line x1="191.3" y1="1769.3" x2="408.3" y2="1769.3" stroke-width="0.9"/>
<polygon points="191.5,1769.3 200.5,1767.7 200.5,1770.9" stroke-width="0.8" fill="#fff"/>
<polygon points="252.2,1769.3 243.2,1770.9 243.2,1767.7" stroke-width="0.8" fill="#fff"/>
<text x="314.64" y="1810.4" font-size="49.7" fill="#2b2a29" stroke="none">Ø32</text>
<text x="685.36" y="1443.42" font-size="50" fill="#2b2a29" stroke="none">G /2</text><polygon points="736.83,1443.42 736.83,1413.22 729.06,1418.77 729.06,1414.62 737.19,1409.03 741.25,1409.03 741.25,1443.42" fill="#2b2a29" stroke="none"/>
<line x1="720.8" y1="1450.8" x2="720.8" y2="1472.7" stroke-width="0.8"/>
<line x1="761.4" y1="1450.8" x2="761.4" y2="1472.7" stroke-width="0.8"/>
<line x1="720.8" y1="1454.6" x2="761.4" y2="1454.6" stroke-width="0.9"/>
<polygon points="721,1454.6 730,1453.2 730,1456" stroke-width="0.3" fill="#1a1a18"/>
<polygon points="761.2,1454.6 752.2,1456 752.2,1453.2" stroke-width="0.3" fill="#1a1a18"/>
<polygon points="720.8,1474 761.4,1474 758.8,1537.9 723.4,1537.9" stroke-width="1.1" fill="none"/>
<polygon points="723.4,1712.7 758.8,1712.7 761.4,1775.8 720.8,1775.8" stroke-width="1.1" fill="none"/>
<line x1="727.2" y1="1537.9" x2="727.2" y2="1605" stroke-width="1.1"/>
<line x1="755.2" y1="1537.9" x2="755.2" y2="1604" stroke-width="1.1"/>
<line x1="727.2" y1="1615" x2="727.2" y2="1712.7" stroke-width="1.1"/>
<line x1="755.2" y1="1616" x2="755.2" y2="1712.7" stroke-width="1.1"/>
<path d="M727.2,1605 C733,1604 737,1604 741,1601.5 C745,1604 749,1605 755.2,1604" stroke-width="0.9" fill="none"/>
<path d="M727.2,1615 C733,1614 737,1613.5 741,1611 C745,1614 749,1615 755.2,1616" stroke-width="0.9" fill="none"/>
<line x1="741.5" y1="1465" x2="741.5" y2="1781.8" stroke-width="0.8" stroke-dasharray="7,2,1.5,2"/>
<line x1="779" y1="1474" x2="779" y2="1775.8" stroke-width="0.9"/>
<polygon points="779,1474.3 780.4,1483.3 777.6,1483.3" stroke-width="0.3" fill="#1a1a18"/>
<polygon points="779,1775.5 777.6,1766.5 780.4,1766.5" stroke-width="0.3" fill="#1a1a18"/>
<line x1="763.4" y1="1474" x2="781.5" y2="1474" stroke-width="0.8"/>
<line x1="763.4" y1="1775.8" x2="781.5" y2="1775.8" stroke-width="0.8"/>
<g transform="translate(802.85,1622.7) rotate(-90)"><text x="-57.82" y="17.43" font-size="50.72" fill="#2b2a29" stroke="none"> 500</text><polygon points="-45.06,17.43 -45.06,-13.2 -52.94,-7.58 -52.94,-11.79 -44.69,-17.46 -40.58,-17.46 -40.58,17.43" fill="#2b2a29" stroke="none"/></g>
<line x1="720.8" y1="1777" x2="720.8" y2="1798" stroke-width="0.8"/>
<line x1="761.4" y1="1777" x2="761.4" y2="1798" stroke-width="0.8"/>
<line x1="720.8" y1="1794.7" x2="761.4" y2="1794.7" stroke-width="0.9"/>
<polygon points="721,1794.7 730,1793.3 730,1796.1" stroke-width="0.3" fill="#1a1a18"/>
<polygon points="761.2,1794.7 752.2,1796.1 752.2,1793.3" stroke-width="0.3" fill="#1a1a18"/>
<text x="685.36" y="1844.22" font-size="50" fill="#2b2a29" stroke="none">G /2</text><polygon points="736.83,1844.22 736.83,1814.02 729.06,1819.57 729.06,1815.42 737.19,1809.83 741.25,1809.83 741.25,1844.22" fill="#2b2a29" stroke="none"/>
<path d="M1000.04,1544.67 A116.8,116.8 0 1 1 1230.76,1544.67" stroke-width="4" fill="none"/>
<path d="M1000.04,1544.67 C1009.8,1608.9 1088.8,1622 1086.6,1690 L1091.2,1765.3 L1089.6,1830 Q1090,1837.5 1097.9,1838" stroke-width="3.2" fill="none"/>
<path d="M1047,1616.5 Q1064,1623 1079,1636.5" stroke-width="2.4" fill="none"/>
<line x1="1048.9" y1="1613.8" x2="1055.5" y2="1604.7" stroke-width="1.5"/>
<line x1="1072.9" y1="1645.3" x2="1076.2" y2="1637" stroke-width="1.2"/>
<line x1="1085.3" y1="1667.7" x2="1090.3" y2="1666.4" stroke-width="1.2"/>
<path d="M1077,1637.8 C1086,1648 1089,1660 1091.1,1664 C1094,1674 1103,1682.6 1115.4,1682.6" stroke-width="2.4" fill="none"/>
<line x1="1092.2" y1="1767.5" x2="1094.4" y2="1822.2" stroke-width="1.1"/>
<line x1="1098.1" y1="1766.6" x2="1103.3" y2="1821.5" stroke-width="1.4"/>
<path d="M1230.76,1544.67 C1221,1608.9 1142,1622 1144.2,1690 L1139.6,1765.3 L1141.2,1830 Q1140.8,1837.5 1132.9,1838" stroke-width="3.2" fill="none"/>
<path d="M1183.8,1616.5 Q1166.8,1623 1151.8,1636.5" stroke-width="2.4" fill="none"/>
<line x1="1181.9" y1="1613.8" x2="1175.3" y2="1604.7" stroke-width="1.5"/>
<line x1="1157.9" y1="1645.3" x2="1154.6" y2="1637" stroke-width="1.2"/>
<line x1="1145.5" y1="1667.7" x2="1140.5" y2="1666.4" stroke-width="1.2"/>
<path d="M1153.8,1637.8 C1144.8,1648 1141.8,1660 1139.7,1664 C1136.8,1674 1127.8,1682.6 1115.4,1682.6" stroke-width="2.4" fill="none"/>
<line x1="1138.6" y1="1767.5" x2="1136.4" y2="1822.2" stroke-width="1.1"/>
<line x1="1132.7" y1="1766.6" x2="1127.5" y2="1821.5" stroke-width="1.4"/>
<path d="M1047.03,1617.12 A113.6,113.6 0 1 1 1183.77,1617.12" stroke-width="0.9" fill="none"/>
<circle cx="1115.4" cy="1526.4" r="97.6" stroke-width="1.6" fill="none"/>
<path d="M1051.3,1611.3 Q1115.4,1646 1179.5,1611.3" stroke-width="2" fill="none"/>
<path d="M1077,1637.8 L1087,1628.7 Q1115.4,1643.8 1143.8,1628.7 L1153.8,1637.8" stroke-width="2.4" fill="none"/>
<path d="M1082.8,1634.5 Q1115.4,1652 1148,1634.5" stroke-width="2" fill="none"/>
<path d="M1087.2,1690.5 Q1115.4,1684 1143.6,1690.5" stroke-width="3" fill="none"/>
<path d="M1091.2,1765.5 Q1115.4,1762 1139.6,1765.5" stroke-width="1.8" fill="none"/>
<line x1="1115.4" y1="1624" x2="1115.4" y2="1822" stroke-width="1"/>
<path d="M1090,1826 Q1115.4,1818 1140.8,1826" stroke-width="1.8" fill="none"/>
<path d="M1096,1827 L1096,1846 Q1096,1853 1115.5,1853 Q1135.1,1853 1135.1,1846 L1135.1,1827 Z" stroke-width="1" fill="#1e1e1e"/>
<ellipse cx="1115.5" cy="1848.5" rx="10" ry="2.6" fill="#fff" stroke="none"/>
<text transform="translate(1116,1665.5) scale(0.74,1)" x="0" y="0" font-size="12.5" font-weight="bold" text-anchor="middle" fill="#1a1a18" stroke="#1a1a18" stroke-width="0.6">SELECT</text>
<ellipse cx="1115.5" cy="1829.5" rx="16.5" ry="3" fill="none" stroke="#fff" stroke-width="1.1"/>
<g fill="#1e1e1e" stroke="none"><circle cx="1081.24" cy="1437.6" r="3.5"/><circle cx="1098.32" cy="1437.6" r="3.5"/><circle cx="1115.4" cy="1437.6" r="3.5239999999999996"/><circle cx="1132.48" cy="1437.6" r="3.5"/><circle cx="1149.56" cy="1437.6" r="3.5"/><circle cx="1055.62" cy="1452.4" r="3.5"/><circle cx="1072.7" cy="1452.4" r="5.9"/><circle cx="1089.78" cy="1452.4" r="3.7338091559455466"/><circle cx="1106.86" cy="1452.4" r="3.8101769769533025"/><circle cx="1123.94" cy="1452.4" r="3.8101769769533025"/><circle cx="1141.02" cy="1452.4" r="3.7338091559455466"/><circle cx="1158.1" cy="1452.4" r="5.9"/><circle cx="1175.18" cy="1452.4" r="3.5"/><circle cx="1047.08" cy="1467.2" r="3.5"/><circle cx="1064.16" cy="1467.2" r="3.7340909860403766"/><circle cx="1081.24" cy="1467.2" r="3.933025881737331"/><circle cx="1098.32" cy="1467.2" r="4.067706788138472"/><circle cx="1115.4" cy="1467.2" r="4.116"/><circle cx="1132.48" cy="1467.2" r="4.067706788138472"/><circle cx="1149.56" cy="1467.2" r="3.933025881737331"/><circle cx="1166.64" cy="1467.2" r="3.7340909860403766"/><circle cx="1183.72" cy="1467.2" r="3.5"/><circle cx="1038.54" cy="1482" r="3.5247456970901325"/><circle cx="1055.62" cy="1482" r="3.810703736659492"/><circle cx="1072.7" cy="1482" r="4.0679853896970215"/><circle cx="1089.78" cy="1482" r="4.274769411302998"/><circle cx="1106.86" cy="1482" r="4.39572313974093"/><circle cx="1123.94" cy="1482" r="4.39572313974093"/><circle cx="1141.02" cy="1482" r="4.274769411302998"/><circle cx="1158.1" cy="1482" r="4.0679853896970215"/><circle cx="1175.18" cy="1482" r="3.810703736659492"/><circle cx="1192.26" cy="1482" r="3.5247456970901325"/><circle cx="1030" cy="1496.8" r="3.5"/><circle cx="1047.08" cy="1496.8" r="3.810868387280694"/><circle cx="1064.16" cy="1496.8" r="4.116497131393421"/><circle cx="1081.24" cy="1496.8" r="4.3959943363009275"/><circle cx="1098.32" cy="1496.8" r="4.616512940868666"/><circle cx="1115.4" cy="1496.8" r="4.708"/><circle cx="1132.48" cy="1496.8" r="4.616512940868666"/><circle cx="1149.56" cy="1496.8" r="4.3959943363009275"/><circle cx="1166.64" cy="1496.8" r="4.116497131393421"/><circle cx="1183.72" cy="1496.8" r="3.810868387280694"/><circle cx="1200.8" cy="1496.8" r="3.5"/><circle cx="1021.46" cy="1511.6" r="3.5"/><circle cx="1038.54" cy="1511.6" r="3.734560815617547"/><circle cx="1055.62" cy="1511.6" r="4.068303868642919"/><circle cx="1072.7" cy="1511.6" r="4.396157093295522"/><circle cx="1089.78" cy="1511.6" r="4.708248565696711"/><circle cx="1141.02" cy="1511.6" r="4.708248565696711"/><circle cx="1158.1" cy="1511.6" r="4.396157093295522"/><circle cx="1175.18" cy="1511.6" r="4.068303868642919"/><circle cx="1192.26" cy="1511.6" r="3.734560815617547"/><circle cx="1209.34" cy="1511.6" r="3.5"/><circle cx="1030" cy="1526.4" r="5.9"/><circle cx="1047.08" cy="1526.4" r="3.9336"/><circle cx="1064.16" cy="1526.4" r="4.2752"/><circle cx="1081.24" cy="1526.4" r="4.6168"/><circle cx="1149.56" cy="1526.4" r="4.6168"/><circle cx="1166.64" cy="1526.4" r="4.2752"/><circle cx="1183.72" cy="1526.4" r="3.9336"/><circle cx="1200.8" cy="1526.4" r="5.9"/><circle cx="1021.46" cy="1541.2" r="3.5"/><circle cx="1038.54" cy="1541.2" r="3.734560815617547"/><circle cx="1055.62" cy="1541.2" r="4.068303868642919"/><circle cx="1072.7" cy="1541.2" r="4.396157093295522"/><circle cx="1089.78" cy="1541.2" r="4.708248565696711"/><circle cx="1141.02" cy="1541.2" r="4.708248565696711"/><circle cx="1158.1" cy="1541.2" r="4.396157093295522"/><circle cx="1175.18" cy="1541.2" r="4.068303868642919"/><circle cx="1192.26" cy="1541.2" r="3.734560815617547"/><circle cx="1209.34" cy="1541.2" r="3.5"/><circle cx="1030" cy="1556" r="3.5"/><circle cx="1047.08" cy="1556" r="3.810868387280694"/><circle cx="1064.16" cy="1556" r="4.116497131393421"/><circle cx="1081.24" cy="1556" r="4.3959943363009275"/><circle cx="1098.32" cy="1556" r="4.616512940868666"/><circle cx="1115.4" cy="1556" r="4.708"/><circle cx="1132.48" cy="1556" r="4.616512940868666"/><circle cx="1149.56" cy="1556" r="4.3959943363009275"/><circle cx="1166.64" cy="1556" r="4.116497131393421"/><circle cx="1183.72" cy="1556" r="3.810868387280694"/><circle cx="1200.8" cy="1556" r="3.5"/><circle cx="1038.54" cy="1570.8" r="3.5247456970901325"/><circle cx="1055.62" cy="1570.8" r="3.810703736659492"/><circle cx="1072.7" cy="1570.8" r="4.0679853896970215"/><circle cx="1089.78" cy="1570.8" r="4.274769411302998"/><circle cx="1106.86" cy="1570.8" r="4.39572313974093"/><circle cx="1123.94" cy="1570.8" r="4.39572313974093"/><circle cx="1141.02" cy="1570.8" r="4.274769411302998"/><circle cx="1158.1" cy="1570.8" r="4.0679853896970215"/><circle cx="1175.18" cy="1570.8" r="3.810703736659492"/><circle cx="1192.26" cy="1570.8" r="3.5247456970901325"/><circle cx="1047.08" cy="1585.6" r="3.5"/><circle cx="1064.16" cy="1585.6" r="3.7340909860403766"/><circle cx="1081.24" cy="1585.6" r="3.933025881737331"/><circle cx="1098.32" cy="1585.6" r="4.067706788138472"/><circle cx="1115.4" cy="1585.6" r="4.116"/><circle cx="1132.48" cy="1585.6" r="4.067706788138472"/><circle cx="1149.56" cy="1585.6" r="3.933025881737331"/><circle cx="1166.64" cy="1585.6" r="3.7340909860403766"/><circle cx="1183.72" cy="1585.6" r="3.5"/><circle cx="1055.62" cy="1600.4" r="3.5"/><circle cx="1072.7" cy="1600.4" r="5.9"/><circle cx="1089.78" cy="1600.4" r="3.7338091559455466"/><circle cx="1106.86" cy="1600.4" r="3.8101769769533025"/><circle cx="1123.94" cy="1600.4" r="3.8101769769533025"/><circle cx="1141.02" cy="1600.4" r="3.7338091559455466"/><circle cx="1158.1" cy="1600.4" r="5.9"/><circle cx="1175.18" cy="1600.4" r="3.5"/><circle cx="1081.24" cy="1615.2" r="3.5"/><circle cx="1098.32" cy="1615.2" r="3.5"/><circle cx="1115.4" cy="1615.2" r="3.5239999999999996"/><circle cx="1132.48" cy="1615.2" r="3.5"/><circle cx="1149.56" cy="1615.2" r="3.5"/></g>
<circle cx="1115.4" cy="1526.4" r="18.2" stroke-width="0" fill="#1e1e1e" stroke="none"/>
<circle cx="1115.4" cy="1526.4" r="6" stroke-width="1" fill="none" stroke="#fff"/>
<circle cx="1115.4" cy="1526.4" r="4.2" stroke-width="0.8" fill="none" stroke="#fff"/>
<circle cx="1115.4" cy="1526.4" r="1.6" stroke-width="0" fill="#fff" stroke="none"/>
<polygon points="1115.4,1539.9 1114.1,1536.9 1116.7,1536.9" stroke-width="0.3" fill="#fff" stroke="#fff"/>
<polygon points="1115.4,1512.9 1116.7,1515.9 1114.1,1515.9" stroke-width="0.3" fill="#fff" stroke="#fff"/>
<polygon points="1127.09,1533.15 1123.84,1532.78 1125.14,1530.52" stroke-width="0.3" fill="#fff" stroke="#fff"/>
<polygon points="1103.71,1533.15 1105.66,1530.52 1106.96,1532.78" stroke-width="0.3" fill="#fff" stroke="#fff"/>
<polygon points="1103.71,1519.65 1106.96,1520.02 1105.66,1522.28" stroke-width="0.3" fill="#fff" stroke="#fff"/>
<polygon points="1127.09,1519.65 1125.14,1522.28 1123.84,1520.02" stroke-width="0.3" fill="#fff" stroke="#fff"/>
<line x1="894.8" y1="1424.2" x2="999.6" y2="1424.2" stroke-width="0.9"/>
<line x1="999.6" y1="1424.2" x2="1026.9" y2="1447.7" stroke-width="0.9"/>
<polygon points="1027.8,1448.5 1020.76,1444.42 1022.71,1442.15" stroke-width="0.3" fill="#1a1a18"/>
<text x="896.39" y="1404.55" font-size="50" fill="#2b2a29" stroke="none">Ø 32</text><polygon points="947.85,1404.55 947.85,1374.35 940.09,1379.89 940.09,1375.74 948.22,1370.15 952.27,1370.15 952.27,1404.55" fill="#2b2a29" stroke="none"/>
<line x1="1207.3" y1="1408.3" x2="1306.3" y2="1408.3" stroke-width="0.9"/>
<line x1="1173.9" y1="1852.9" x2="1306.6" y2="1852.9" stroke-width="0.9"/>
<line x1="1302.2" y1="1408.3" x2="1302.2" y2="1852.9" stroke-width="0.9"/>
<polygon points="1302.2,1408.6 1303.6,1417.6 1300.8,1417.6" stroke-width="0.3" fill="#1a1a18"/>
<polygon points="1302.2,1852.6 1300.8,1843.6 1303.6,1843.6" stroke-width="0.3" fill="#1a1a18"/>
<g transform="translate(1272.85,1623) rotate(-90)"><text x="-60.59" y="14.78" font-size="51.84" fill="#2b2a29" stroke="none">250, </text><polygon points="53.35,14.78 53.35,-16.54 45.3,-10.79 45.3,-15.1 53.73,-20.89 57.93,-20.89 57.93,14.78" fill="#2b2a29" stroke="none"/></g>
<line x1="1096.6" y1="1852" x2="1096.6" y2="1879" stroke-width="0.8"/>
<line x1="1133.3" y1="1852" x2="1133.8" y2="1879" stroke-width="0.8"/>
<line x1="1096.6" y1="1876.8" x2="1133.8" y2="1876.8" stroke-width="0.9"/>
<polygon points="1096.8,1876.8 1104.8,1875.4 1104.8,1878.2" stroke-width="0.3" fill="#1a1a18"/>
<polygon points="1133.6,1876.8 1125.6,1878.2 1125.6,1875.4" stroke-width="0.3" fill="#1a1a18"/>
<text x="1067.01" y="1950.03" font-size="50" fill="#2b2a29" stroke="none">G /2</text><polygon points="1118.48,1950.03 1118.48,1919.82 1110.71,1925.37 1110.71,1921.22 1118.84,1915.63 1122.9,1915.63 1122.9,1950.03" fill="#2b2a29" stroke="none"/>
</g>
</svg>
</body></html>
